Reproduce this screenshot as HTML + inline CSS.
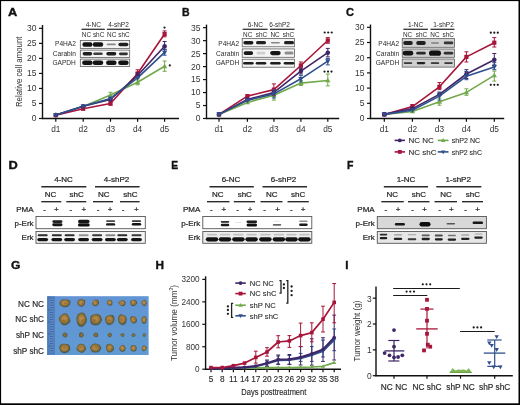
<!DOCTYPE html>
<html><head><meta charset="utf-8"><style>
html,body{margin:0;padding:0;background:#fff;}
body{width:520px;height:405px;overflow:hidden;font-family:"Liberation Sans",sans-serif;}
svg{display:block;filter:blur(0.4px);}
</style></head><body>
<svg width="520" height="405" viewBox="0 0 520 405" font-family="Liberation Sans, sans-serif">
<rect x="0" y="0" width="520" height="405" fill="#fff"/>
<defs><filter id="bl" x="-20%" y="-50%" width="140%" height="200%"><feGaussianBlur stdDeviation="0.45"/></filter><filter id="bl2" x="-20%" y="-50%" width="140%" height="200%"><feGaussianBlur stdDeviation="0.7"/></filter><radialGradient id="tum" cx="47%" cy="45%" r="52%"><stop offset="0" stop-color="#c2904c"/><stop offset="0.4" stop-color="#ad813f"/><stop offset="0.72" stop-color="#776a3c"/><stop offset="0.92" stop-color="#4e5846"/><stop offset="1" stop-color="#557090"/></radialGradient><radialGradient id="tums" cx="50%" cy="50%" r="55%"><stop offset="0" stop-color="#9a7a40"/><stop offset="0.6" stop-color="#6d6238"/><stop offset="1" stop-color="#4d5a58"/></radialGradient><linearGradient id="photo" x1="0" y1="0" x2="0.3" y2="1"><stop offset="0" stop-color="#6392d4"/><stop offset="0.5" stop-color="#6197d4"/><stop offset="1" stop-color="#5f9ad2"/></linearGradient></defs>
<text transform="translate(8.00,15.60) scale(1.22,1)" x="0" y="0" font-size="10.5" font-weight="bold" fill="#111" stroke="#111" stroke-width="0.35">A</text>
<line x1="42.50" y1="25.00" x2="42.50" y2="119.10" stroke="#111" stroke-width="1.4" />
<line x1="41.90" y1="118.50" x2="179.00" y2="118.50" stroke="#111" stroke-width="1.4" />
<line x1="39.00" y1="118.50" x2="42.50" y2="118.50" stroke="#111" stroke-width="1.2" />
<text x="36.50" y="121.40" font-size="8.5" text-anchor="end" font-weight="normal" fill="#333333" >0</text>
<line x1="39.00" y1="103.47" x2="42.50" y2="103.47" stroke="#111" stroke-width="1.2" />
<text x="36.50" y="106.38" font-size="8.5" text-anchor="end" font-weight="normal" fill="#333333" >5</text>
<line x1="39.00" y1="88.45" x2="42.50" y2="88.45" stroke="#111" stroke-width="1.2" />
<text x="36.50" y="91.35" font-size="8.5" text-anchor="end" font-weight="normal" fill="#333333" >10</text>
<line x1="39.00" y1="73.43" x2="42.50" y2="73.43" stroke="#111" stroke-width="1.2" />
<text x="36.50" y="76.33" font-size="8.5" text-anchor="end" font-weight="normal" fill="#333333" >15</text>
<line x1="39.00" y1="58.40" x2="42.50" y2="58.40" stroke="#111" stroke-width="1.2" />
<text x="36.50" y="61.30" font-size="8.5" text-anchor="end" font-weight="normal" fill="#333333" >20</text>
<line x1="39.00" y1="43.38" x2="42.50" y2="43.38" stroke="#111" stroke-width="1.2" />
<text x="36.50" y="46.27" font-size="8.5" text-anchor="end" font-weight="normal" fill="#333333" >25</text>
<line x1="39.00" y1="28.35" x2="42.50" y2="28.35" stroke="#111" stroke-width="1.2" />
<text x="36.50" y="31.25" font-size="8.5" text-anchor="end" font-weight="normal" fill="#333333" >30</text>
<line x1="55.80" y1="118.50" x2="55.80" y2="121.70" stroke="#111" stroke-width="1.2" />
<text x="55.80" y="131.80" font-size="8.3" text-anchor="middle" font-weight="normal" fill="#333333" >d1</text>
<line x1="83.20" y1="118.50" x2="83.20" y2="121.70" stroke="#111" stroke-width="1.2" />
<text x="83.20" y="131.80" font-size="8.3" text-anchor="middle" font-weight="normal" fill="#333333" >d2</text>
<line x1="110.50" y1="118.50" x2="110.50" y2="121.70" stroke="#111" stroke-width="1.2" />
<text x="110.50" y="131.80" font-size="8.3" text-anchor="middle" font-weight="normal" fill="#333333" >d3</text>
<line x1="137.60" y1="118.50" x2="137.60" y2="121.70" stroke="#111" stroke-width="1.2" />
<text x="137.60" y="131.80" font-size="8.3" text-anchor="middle" font-weight="normal" fill="#333333" >d4</text>
<line x1="164.60" y1="118.50" x2="164.60" y2="121.70" stroke="#111" stroke-width="1.2" />
<text x="164.60" y="131.80" font-size="8.3" text-anchor="middle" font-weight="normal" fill="#333333" >d5</text>
<polyline points="55.80,115.00 83.20,106.60 110.50,94.90 137.60,82.30 164.60,66.30" fill="none" stroke="#72a94c" stroke-width="1.6" stroke-linejoin="round" stroke-linecap="round"/>
<polyline points="55.80,115.20 83.20,108.80 110.50,103.50 137.60,73.50 164.60,34.00" fill="none" stroke="#a8153a" stroke-width="1.6" stroke-linejoin="round" stroke-linecap="round"/>
<polyline points="55.80,115.00 83.20,106.30 110.50,99.40 137.60,75.50 164.60,46.30" fill="none" stroke="#3f2667" stroke-width="1.6" stroke-linejoin="round" stroke-linecap="round"/>
<polyline points="55.80,115.00 83.20,106.30 110.50,98.40 137.60,77.90 164.60,52.40" fill="none" stroke="#2f4f8e" stroke-width="1.6" stroke-linejoin="round" stroke-linecap="round"/>
<polygon points="55.80,112.24 58.44,116.84 53.16,116.84" fill="#72a94c"/>
<polygon points="83.20,103.84 85.84,108.44 80.56,108.44" fill="#72a94c"/>
<polygon points="110.50,92.14 113.14,96.74 107.86,96.74" fill="#72a94c"/>
<polygon points="137.60,79.54 140.25,84.14 134.95,84.14" fill="#72a94c"/>
<polygon points="164.60,63.54 167.25,68.14 161.95,68.14" fill="#72a94c"/>
<line x1="164.60" y1="61.00" x2="164.60" y2="71.30" stroke="#72a94c" stroke-width="1.0" />
<line x1="162.60" y1="61.00" x2="166.60" y2="61.00" stroke="#72a94c" stroke-width="1.0" />
<line x1="162.60" y1="71.30" x2="166.60" y2="71.30" stroke="#72a94c" stroke-width="1.0" />
<line x1="110.50" y1="92.30" x2="110.50" y2="97.40" stroke="#72a94c" stroke-width="1.0" />
<line x1="108.50" y1="92.30" x2="112.50" y2="92.30" stroke="#72a94c" stroke-width="1.0" />
<line x1="108.50" y1="97.40" x2="112.50" y2="97.40" stroke="#72a94c" stroke-width="1.0" />
<line x1="137.60" y1="80.00" x2="137.60" y2="84.80" stroke="#72a94c" stroke-width="1.0" />
<line x1="135.60" y1="80.00" x2="139.60" y2="80.00" stroke="#72a94c" stroke-width="1.0" />
<line x1="135.60" y1="84.80" x2="139.60" y2="84.80" stroke="#72a94c" stroke-width="1.0" />
<rect x="53.70" y="113.10" width="4.20" height="4.20" fill="#a8153a"/>
<rect x="81.10" y="106.70" width="4.20" height="4.20" fill="#a8153a"/>
<rect x="108.40" y="101.40" width="4.20" height="4.20" fill="#a8153a"/>
<rect x="135.50" y="71.40" width="4.20" height="4.20" fill="#a8153a"/>
<rect x="162.50" y="31.90" width="4.20" height="4.20" fill="#a8153a"/>
<line x1="137.60" y1="69.80" x2="137.60" y2="76.80" stroke="#a8153a" stroke-width="1.0" />
<line x1="135.60" y1="69.80" x2="139.60" y2="69.80" stroke="#a8153a" stroke-width="1.0" />
<line x1="135.60" y1="76.80" x2="139.60" y2="76.80" stroke="#a8153a" stroke-width="1.0" />
<line x1="164.60" y1="30.90" x2="164.60" y2="36.80" stroke="#a8153a" stroke-width="1.0" />
<line x1="162.60" y1="30.90" x2="166.60" y2="30.90" stroke="#a8153a" stroke-width="1.0" />
<line x1="162.60" y1="36.80" x2="166.60" y2="36.80" stroke="#a8153a" stroke-width="1.0" />
<line x1="110.50" y1="101.60" x2="110.50" y2="105.20" stroke="#a8153a" stroke-width="1.0" />
<line x1="108.50" y1="101.60" x2="112.50" y2="101.60" stroke="#a8153a" stroke-width="1.0" />
<line x1="108.50" y1="105.20" x2="112.50" y2="105.20" stroke="#a8153a" stroke-width="1.0" />
<circle cx="55.80" cy="115.00" r="2.30" fill="#3f2667"/>
<circle cx="83.20" cy="106.30" r="2.30" fill="#3f2667"/>
<circle cx="110.50" cy="99.40" r="2.30" fill="#3f2667"/>
<circle cx="137.60" cy="75.50" r="2.30" fill="#3f2667"/>
<circle cx="164.60" cy="46.30" r="2.30" fill="#3f2667"/>
<line x1="164.60" y1="41.50" x2="164.60" y2="49.20" stroke="#3f2667" stroke-width="1.0" />
<line x1="162.60" y1="41.50" x2="166.60" y2="41.50" stroke="#3f2667" stroke-width="1.0" />
<line x1="162.60" y1="49.20" x2="166.60" y2="49.20" stroke="#3f2667" stroke-width="1.0" />
<line x1="137.60" y1="72.80" x2="137.60" y2="78.00" stroke="#3f2667" stroke-width="1.0" />
<line x1="135.60" y1="72.80" x2="139.60" y2="72.80" stroke="#3f2667" stroke-width="1.0" />
<line x1="135.60" y1="78.00" x2="139.60" y2="78.00" stroke="#3f2667" stroke-width="1.0" />
<polygon points="55.80,117.76 58.44,113.16 53.16,113.16" fill="#2f4f8e"/>
<polygon points="83.20,109.06 85.84,104.46 80.56,104.46" fill="#2f4f8e"/>
<polygon points="110.50,101.16 113.14,96.56 107.86,96.56" fill="#2f4f8e"/>
<polygon points="137.60,80.66 140.25,76.06 134.95,76.06" fill="#2f4f8e"/>
<polygon points="164.60,55.16 167.25,50.56 161.95,50.56" fill="#2f4f8e"/>
<line x1="164.60" y1="49.50" x2="164.60" y2="55.20" stroke="#2f4f8e" stroke-width="1.0" />
<line x1="162.60" y1="49.50" x2="166.60" y2="49.50" stroke="#2f4f8e" stroke-width="1.0" />
<line x1="162.60" y1="55.20" x2="166.60" y2="55.20" stroke="#2f4f8e" stroke-width="1.0" />
<circle cx="164.50" cy="27.60" r="1.1" fill="#1a1a1a"/>
<circle cx="169.80" cy="65.40" r="1.1" fill="#1a1a1a"/>
<text transform="translate(22.40,71.80) rotate(-90) scale(0.8,1)" x="0" y="0" font-size="9.8" text-anchor="middle" fill="#333333" >Relative cell amount</text>
<text transform="translate(182.00,15.60) scale(1.0,1)" x="0" y="0" font-size="10.5" font-weight="bold" fill="#111" stroke="#111" stroke-width="0.35">B</text>
<line x1="206.50" y1="24.60" x2="206.50" y2="119.10" stroke="#111" stroke-width="1.4" />
<line x1="205.90" y1="118.50" x2="339.20" y2="118.50" stroke="#111" stroke-width="1.4" />
<line x1="203.00" y1="118.50" x2="206.50" y2="118.50" stroke="#111" stroke-width="1.2" />
<text x="200.50" y="121.40" font-size="8.5" text-anchor="end" font-weight="normal" fill="#333333" >0</text>
<line x1="203.00" y1="105.53" x2="206.50" y2="105.53" stroke="#111" stroke-width="1.2" />
<text x="200.50" y="108.43" font-size="8.5" text-anchor="end" font-weight="normal" fill="#333333" >5</text>
<line x1="203.00" y1="92.55" x2="206.50" y2="92.55" stroke="#111" stroke-width="1.2" />
<text x="200.50" y="95.45" font-size="8.5" text-anchor="end" font-weight="normal" fill="#333333" >10</text>
<line x1="203.00" y1="79.57" x2="206.50" y2="79.57" stroke="#111" stroke-width="1.2" />
<text x="200.50" y="82.47" font-size="8.5" text-anchor="end" font-weight="normal" fill="#333333" >15</text>
<line x1="203.00" y1="66.60" x2="206.50" y2="66.60" stroke="#111" stroke-width="1.2" />
<text x="200.50" y="69.50" font-size="8.5" text-anchor="end" font-weight="normal" fill="#333333" >20</text>
<line x1="203.00" y1="53.62" x2="206.50" y2="53.62" stroke="#111" stroke-width="1.2" />
<text x="200.50" y="56.52" font-size="8.5" text-anchor="end" font-weight="normal" fill="#333333" >25</text>
<line x1="203.00" y1="40.65" x2="206.50" y2="40.65" stroke="#111" stroke-width="1.2" />
<text x="200.50" y="43.55" font-size="8.5" text-anchor="end" font-weight="normal" fill="#333333" >30</text>
<line x1="203.00" y1="27.67" x2="206.50" y2="27.67" stroke="#111" stroke-width="1.2" />
<text x="200.50" y="30.57" font-size="8.5" text-anchor="end" font-weight="normal" fill="#333333" >35</text>
<line x1="219.00" y1="118.50" x2="219.00" y2="121.70" stroke="#111" stroke-width="1.2" />
<text x="219.00" y="131.80" font-size="8.3" text-anchor="middle" font-weight="normal" fill="#333333" >d1</text>
<line x1="247.40" y1="118.50" x2="247.40" y2="121.70" stroke="#111" stroke-width="1.2" />
<text x="247.40" y="131.80" font-size="8.3" text-anchor="middle" font-weight="normal" fill="#333333" >d2</text>
<line x1="273.90" y1="118.50" x2="273.90" y2="121.70" stroke="#111" stroke-width="1.2" />
<text x="273.90" y="131.80" font-size="8.3" text-anchor="middle" font-weight="normal" fill="#333333" >d3</text>
<line x1="300.90" y1="118.50" x2="300.90" y2="121.70" stroke="#111" stroke-width="1.2" />
<text x="300.90" y="131.80" font-size="8.3" text-anchor="middle" font-weight="normal" fill="#333333" >d4</text>
<line x1="327.80" y1="118.50" x2="327.80" y2="121.70" stroke="#111" stroke-width="1.2" />
<text x="327.80" y="131.80" font-size="8.3" text-anchor="middle" font-weight="normal" fill="#333333" >d5</text>
<polyline points="219.00,114.40 247.40,102.40 273.90,95.30 300.90,83.10 327.80,80.50" fill="none" stroke="#72a94c" stroke-width="1.6" stroke-linejoin="round" stroke-linecap="round"/>
<polyline points="219.00,114.40 247.40,96.10 273.90,89.60 300.90,65.50 327.80,40.50" fill="none" stroke="#a8153a" stroke-width="1.6" stroke-linejoin="round" stroke-linecap="round"/>
<polyline points="219.00,114.40 247.40,99.50 273.90,92.40 300.90,71.10 327.80,52.70" fill="none" stroke="#3f2667" stroke-width="1.6" stroke-linejoin="round" stroke-linecap="round"/>
<polyline points="219.00,114.40 247.40,100.40 273.90,93.90 300.90,78.80 327.80,61.20" fill="none" stroke="#2f4f8e" stroke-width="1.6" stroke-linejoin="round" stroke-linecap="round"/>
<polygon points="219.00,111.64 221.65,116.24 216.35,116.24" fill="#72a94c"/>
<polygon points="247.40,99.64 250.05,104.24 244.75,104.24" fill="#72a94c"/>
<polygon points="273.90,92.54 276.54,97.14 271.25,97.14" fill="#72a94c"/>
<polygon points="300.90,80.34 303.54,84.94 298.25,84.94" fill="#72a94c"/>
<polygon points="327.80,77.74 330.44,82.34 325.16,82.34" fill="#72a94c"/>
<line x1="327.80" y1="74.00" x2="327.80" y2="85.90" stroke="#72a94c" stroke-width="1.0" />
<line x1="325.80" y1="74.00" x2="329.80" y2="74.00" stroke="#72a94c" stroke-width="1.0" />
<line x1="325.80" y1="85.90" x2="329.80" y2="85.90" stroke="#72a94c" stroke-width="1.0" />
<line x1="273.90" y1="91.00" x2="273.90" y2="100.10" stroke="#72a94c" stroke-width="1.0" />
<line x1="271.90" y1="91.00" x2="275.90" y2="91.00" stroke="#72a94c" stroke-width="1.0" />
<line x1="271.90" y1="100.10" x2="275.90" y2="100.10" stroke="#72a94c" stroke-width="1.0" />
<line x1="300.90" y1="80.50" x2="300.90" y2="85.50" stroke="#72a94c" stroke-width="1.0" />
<line x1="298.90" y1="80.50" x2="302.90" y2="80.50" stroke="#72a94c" stroke-width="1.0" />
<line x1="298.90" y1="85.50" x2="302.90" y2="85.50" stroke="#72a94c" stroke-width="1.0" />
<rect x="216.90" y="112.30" width="4.20" height="4.20" fill="#a8153a"/>
<rect x="245.30" y="94.00" width="4.20" height="4.20" fill="#a8153a"/>
<rect x="271.80" y="87.50" width="4.20" height="4.20" fill="#a8153a"/>
<rect x="298.80" y="63.40" width="4.20" height="4.20" fill="#a8153a"/>
<rect x="325.70" y="38.40" width="4.20" height="4.20" fill="#a8153a"/>
<line x1="327.80" y1="37.60" x2="327.80" y2="43.30" stroke="#a8153a" stroke-width="1.0" />
<line x1="325.80" y1="37.60" x2="329.80" y2="37.60" stroke="#a8153a" stroke-width="1.0" />
<line x1="325.80" y1="43.30" x2="329.80" y2="43.30" stroke="#a8153a" stroke-width="1.0" />
<line x1="300.90" y1="62.00" x2="300.90" y2="68.80" stroke="#a8153a" stroke-width="1.0" />
<line x1="298.90" y1="62.00" x2="302.90" y2="62.00" stroke="#a8153a" stroke-width="1.0" />
<line x1="298.90" y1="68.80" x2="302.90" y2="68.80" stroke="#a8153a" stroke-width="1.0" />
<line x1="273.90" y1="83.90" x2="273.90" y2="95.30" stroke="#a8153a" stroke-width="1.0" />
<line x1="271.90" y1="83.90" x2="275.90" y2="83.90" stroke="#a8153a" stroke-width="1.0" />
<line x1="271.90" y1="95.30" x2="275.90" y2="95.30" stroke="#a8153a" stroke-width="1.0" />
<circle cx="219.00" cy="114.40" r="2.30" fill="#3f2667"/>
<circle cx="247.40" cy="99.50" r="2.30" fill="#3f2667"/>
<circle cx="273.90" cy="92.40" r="2.30" fill="#3f2667"/>
<circle cx="300.90" cy="71.10" r="2.30" fill="#3f2667"/>
<circle cx="327.80" cy="52.70" r="2.30" fill="#3f2667"/>
<line x1="327.80" y1="48.40" x2="327.80" y2="56.90" stroke="#3f2667" stroke-width="1.0" />
<line x1="325.80" y1="48.40" x2="329.80" y2="48.40" stroke="#3f2667" stroke-width="1.0" />
<line x1="325.80" y1="56.90" x2="329.80" y2="56.90" stroke="#3f2667" stroke-width="1.0" />
<line x1="300.90" y1="68.00" x2="300.90" y2="74.00" stroke="#3f2667" stroke-width="1.0" />
<line x1="298.90" y1="68.00" x2="302.90" y2="68.00" stroke="#3f2667" stroke-width="1.0" />
<line x1="298.90" y1="74.00" x2="302.90" y2="74.00" stroke="#3f2667" stroke-width="1.0" />
<polygon points="219.00,117.16 221.65,112.56 216.35,112.56" fill="#2f4f8e"/>
<polygon points="247.40,103.16 250.05,98.56 244.75,98.56" fill="#2f4f8e"/>
<polygon points="273.90,96.66 276.54,92.06 271.25,92.06" fill="#2f4f8e"/>
<polygon points="300.90,81.56 303.54,76.96 298.25,76.96" fill="#2f4f8e"/>
<polygon points="327.80,63.96 330.44,59.36 325.16,59.36" fill="#2f4f8e"/>
<line x1="327.80" y1="58.40" x2="327.80" y2="64.90" stroke="#2f4f8e" stroke-width="1.0" />
<line x1="325.80" y1="58.40" x2="329.80" y2="58.40" stroke="#2f4f8e" stroke-width="1.0" />
<line x1="325.80" y1="64.90" x2="329.80" y2="64.90" stroke="#2f4f8e" stroke-width="1.0" />
<line x1="300.90" y1="75.40" x2="300.90" y2="81.90" stroke="#2f4f8e" stroke-width="1.0" />
<line x1="298.90" y1="75.40" x2="302.90" y2="75.40" stroke="#2f4f8e" stroke-width="1.0" />
<line x1="298.90" y1="81.90" x2="302.90" y2="81.90" stroke="#2f4f8e" stroke-width="1.0" />
<line x1="273.90" y1="90.00" x2="273.90" y2="98.00" stroke="#2f4f8e" stroke-width="1.0" />
<line x1="271.90" y1="90.00" x2="275.90" y2="90.00" stroke="#2f4f8e" stroke-width="1.0" />
<line x1="271.90" y1="98.00" x2="275.90" y2="98.00" stroke="#2f4f8e" stroke-width="1.0" />
<circle cx="324.70" cy="32.50" r="1.1" fill="#1a1a1a"/>
<circle cx="328.20" cy="32.50" r="1.1" fill="#1a1a1a"/>
<circle cx="331.70" cy="32.50" r="1.1" fill="#1a1a1a"/>
<circle cx="324.50" cy="71.60" r="1.1" fill="#1a1a1a"/>
<circle cx="328.00" cy="71.60" r="1.1" fill="#1a1a1a"/>
<circle cx="331.50" cy="71.60" r="1.1" fill="#1a1a1a"/>
<text transform="translate(346.00,15.60) scale(1.05,1)" x="0" y="0" font-size="10.5" font-weight="bold" fill="#111" stroke="#111" stroke-width="0.35">C</text>
<line x1="370.50" y1="24.50" x2="370.50" y2="119.10" stroke="#111" stroke-width="1.4" />
<line x1="369.90" y1="118.50" x2="504.20" y2="118.50" stroke="#111" stroke-width="1.4" />
<line x1="367.00" y1="118.50" x2="370.50" y2="118.50" stroke="#111" stroke-width="1.2" />
<text x="364.50" y="121.40" font-size="8.5" text-anchor="end" font-weight="normal" fill="#333333" >0</text>
<line x1="367.00" y1="103.30" x2="370.50" y2="103.30" stroke="#111" stroke-width="1.2" />
<text x="364.50" y="106.20" font-size="8.5" text-anchor="end" font-weight="normal" fill="#333333" >5</text>
<line x1="367.00" y1="88.10" x2="370.50" y2="88.10" stroke="#111" stroke-width="1.2" />
<text x="364.50" y="91.00" font-size="8.5" text-anchor="end" font-weight="normal" fill="#333333" >10</text>
<line x1="367.00" y1="72.90" x2="370.50" y2="72.90" stroke="#111" stroke-width="1.2" />
<text x="364.50" y="75.80" font-size="8.5" text-anchor="end" font-weight="normal" fill="#333333" >15</text>
<line x1="367.00" y1="57.70" x2="370.50" y2="57.70" stroke="#111" stroke-width="1.2" />
<text x="364.50" y="60.60" font-size="8.5" text-anchor="end" font-weight="normal" fill="#333333" >20</text>
<line x1="367.00" y1="42.50" x2="370.50" y2="42.50" stroke="#111" stroke-width="1.2" />
<text x="364.50" y="45.40" font-size="8.5" text-anchor="end" font-weight="normal" fill="#333333" >25</text>
<line x1="367.00" y1="27.30" x2="370.50" y2="27.30" stroke="#111" stroke-width="1.2" />
<text x="364.50" y="30.20" font-size="8.5" text-anchor="end" font-weight="normal" fill="#333333" >30</text>
<line x1="384.30" y1="118.50" x2="384.30" y2="121.70" stroke="#111" stroke-width="1.2" />
<text x="384.30" y="131.80" font-size="8.3" text-anchor="middle" font-weight="normal" fill="#333333" >d1</text>
<line x1="412.40" y1="118.50" x2="412.40" y2="121.70" stroke="#111" stroke-width="1.2" />
<text x="412.40" y="131.80" font-size="8.3" text-anchor="middle" font-weight="normal" fill="#333333" >d2</text>
<line x1="439.40" y1="118.50" x2="439.40" y2="121.70" stroke="#111" stroke-width="1.2" />
<text x="439.40" y="131.80" font-size="8.3" text-anchor="middle" font-weight="normal" fill="#333333" >d3</text>
<line x1="466.40" y1="118.50" x2="466.40" y2="121.70" stroke="#111" stroke-width="1.2" />
<text x="466.40" y="131.80" font-size="8.3" text-anchor="middle" font-weight="normal" fill="#333333" >d4</text>
<line x1="494.30" y1="118.50" x2="494.30" y2="121.70" stroke="#111" stroke-width="1.2" />
<text x="494.30" y="131.80" font-size="8.3" text-anchor="middle" font-weight="normal" fill="#333333" >d5</text>
<polyline points="384.30,114.40 412.40,111.50 439.40,101.80 466.40,92.40 494.30,75.40" fill="none" stroke="#72a94c" stroke-width="1.6" stroke-linejoin="round" stroke-linecap="round"/>
<polyline points="384.30,114.40 412.40,106.60 439.40,86.80 466.40,56.90 494.30,42.70" fill="none" stroke="#a8153a" stroke-width="1.6" stroke-linejoin="round" stroke-linecap="round"/>
<polyline points="384.30,114.40 412.40,108.60 439.40,94.40 466.40,74.00 494.30,59.80" fill="none" stroke="#3f2667" stroke-width="1.6" stroke-linejoin="round" stroke-linecap="round"/>
<polyline points="384.30,114.40 412.40,110.30 439.40,96.10 466.40,76.30 494.30,66.90" fill="none" stroke="#2f4f8e" stroke-width="1.6" stroke-linejoin="round" stroke-linecap="round"/>
<polygon points="384.30,111.64 386.94,116.24 381.66,116.24" fill="#72a94c"/>
<polygon points="412.40,108.74 415.04,113.34 409.75,113.34" fill="#72a94c"/>
<polygon points="439.40,99.04 442.04,103.64 436.75,103.64" fill="#72a94c"/>
<polygon points="466.40,89.64 469.04,94.24 463.75,94.24" fill="#72a94c"/>
<polygon points="494.30,72.64 496.94,77.24 491.66,77.24" fill="#72a94c"/>
<line x1="494.30" y1="71.10" x2="494.30" y2="81.10" stroke="#72a94c" stroke-width="1.0" />
<line x1="492.30" y1="71.10" x2="496.30" y2="71.10" stroke="#72a94c" stroke-width="1.0" />
<line x1="492.30" y1="81.10" x2="496.30" y2="81.10" stroke="#72a94c" stroke-width="1.0" />
<line x1="466.40" y1="88.80" x2="466.40" y2="95.30" stroke="#72a94c" stroke-width="1.0" />
<line x1="464.40" y1="88.80" x2="468.40" y2="88.80" stroke="#72a94c" stroke-width="1.0" />
<line x1="464.40" y1="95.30" x2="468.40" y2="95.30" stroke="#72a94c" stroke-width="1.0" />
<line x1="439.40" y1="98.10" x2="439.40" y2="105.20" stroke="#72a94c" stroke-width="1.0" />
<line x1="437.40" y1="98.10" x2="441.40" y2="98.10" stroke="#72a94c" stroke-width="1.0" />
<line x1="437.40" y1="105.20" x2="441.40" y2="105.20" stroke="#72a94c" stroke-width="1.0" />
<rect x="382.20" y="112.30" width="4.20" height="4.20" fill="#a8153a"/>
<rect x="410.30" y="104.50" width="4.20" height="4.20" fill="#a8153a"/>
<rect x="437.30" y="84.70" width="4.20" height="4.20" fill="#a8153a"/>
<rect x="464.30" y="54.80" width="4.20" height="4.20" fill="#a8153a"/>
<rect x="492.20" y="40.60" width="4.20" height="4.20" fill="#a8153a"/>
<line x1="494.30" y1="37.60" x2="494.30" y2="47.00" stroke="#a8153a" stroke-width="1.0" />
<line x1="492.30" y1="37.60" x2="496.30" y2="37.60" stroke="#a8153a" stroke-width="1.0" />
<line x1="492.30" y1="47.00" x2="496.30" y2="47.00" stroke="#a8153a" stroke-width="1.0" />
<line x1="466.40" y1="51.80" x2="466.40" y2="62.00" stroke="#a8153a" stroke-width="1.0" />
<line x1="464.40" y1="51.80" x2="468.40" y2="51.80" stroke="#a8153a" stroke-width="1.0" />
<line x1="464.40" y1="62.00" x2="468.40" y2="62.00" stroke="#a8153a" stroke-width="1.0" />
<line x1="439.40" y1="82.50" x2="439.40" y2="89.60" stroke="#a8153a" stroke-width="1.0" />
<line x1="437.40" y1="82.50" x2="441.40" y2="82.50" stroke="#a8153a" stroke-width="1.0" />
<line x1="437.40" y1="89.60" x2="441.40" y2="89.60" stroke="#a8153a" stroke-width="1.0" />
<line x1="412.40" y1="104.50" x2="412.40" y2="108.50" stroke="#a8153a" stroke-width="1.0" />
<line x1="410.40" y1="104.50" x2="414.40" y2="104.50" stroke="#a8153a" stroke-width="1.0" />
<line x1="410.40" y1="108.50" x2="414.40" y2="108.50" stroke="#a8153a" stroke-width="1.0" />
<circle cx="384.30" cy="114.40" r="2.30" fill="#3f2667"/>
<circle cx="412.40" cy="108.60" r="2.30" fill="#3f2667"/>
<circle cx="439.40" cy="94.40" r="2.30" fill="#3f2667"/>
<circle cx="466.40" cy="74.00" r="2.30" fill="#3f2667"/>
<circle cx="494.30" cy="59.80" r="2.30" fill="#3f2667"/>
<line x1="494.30" y1="53.50" x2="494.30" y2="64.90" stroke="#3f2667" stroke-width="1.0" />
<line x1="492.30" y1="53.50" x2="496.30" y2="53.50" stroke="#3f2667" stroke-width="1.0" />
<line x1="492.30" y1="64.90" x2="496.30" y2="64.90" stroke="#3f2667" stroke-width="1.0" />
<line x1="466.40" y1="69.70" x2="466.40" y2="78.50" stroke="#3f2667" stroke-width="1.0" />
<line x1="464.40" y1="69.70" x2="468.40" y2="69.70" stroke="#3f2667" stroke-width="1.0" />
<line x1="464.40" y1="78.50" x2="468.40" y2="78.50" stroke="#3f2667" stroke-width="1.0" />
<polygon points="384.30,117.16 386.94,112.56 381.66,112.56" fill="#2f4f8e"/>
<polygon points="412.40,113.06 415.04,108.46 409.75,108.46" fill="#2f4f8e"/>
<polygon points="439.40,98.86 442.04,94.26 436.75,94.26" fill="#2f4f8e"/>
<polygon points="466.40,79.06 469.04,74.46 463.75,74.46" fill="#2f4f8e"/>
<polygon points="494.30,69.66 496.94,65.06 491.66,65.06" fill="#2f4f8e"/>
<line x1="494.30" y1="62.60" x2="494.30" y2="69.70" stroke="#2f4f8e" stroke-width="1.0" />
<line x1="492.30" y1="62.60" x2="496.30" y2="62.60" stroke="#2f4f8e" stroke-width="1.0" />
<line x1="492.30" y1="69.70" x2="496.30" y2="69.70" stroke="#2f4f8e" stroke-width="1.0" />
<line x1="466.40" y1="71.50" x2="466.40" y2="79.70" stroke="#2f4f8e" stroke-width="1.0" />
<line x1="464.40" y1="71.50" x2="468.40" y2="71.50" stroke="#2f4f8e" stroke-width="1.0" />
<line x1="464.40" y1="79.70" x2="468.40" y2="79.70" stroke="#2f4f8e" stroke-width="1.0" />
<line x1="439.40" y1="92.00" x2="439.40" y2="100.00" stroke="#2f4f8e" stroke-width="1.0" />
<line x1="437.40" y1="92.00" x2="441.40" y2="92.00" stroke="#2f4f8e" stroke-width="1.0" />
<line x1="437.40" y1="100.00" x2="441.40" y2="100.00" stroke="#2f4f8e" stroke-width="1.0" />
<circle cx="490.80" cy="32.70" r="1.1" fill="#1a1a1a"/>
<circle cx="494.30" cy="32.70" r="1.1" fill="#1a1a1a"/>
<circle cx="497.80" cy="32.70" r="1.1" fill="#1a1a1a"/>
<circle cx="490.80" cy="84.80" r="1.1" fill="#1a1a1a"/>
<circle cx="494.30" cy="84.80" r="1.1" fill="#1a1a1a"/>
<circle cx="497.80" cy="84.80" r="1.1" fill="#1a1a1a"/>
<line x1="394.60" y1="140.40" x2="405.00" y2="140.40" stroke="#3f2667" stroke-width="1.6" />
<circle cx="399.80" cy="140.40" r="1.90" fill="#3f2667"/>
<text x="408.50" y="143.20" font-size="8.0" text-anchor="start" font-weight="normal" fill="#2a2a2a" stroke="#2a2a2a" stroke-width="0.1">NC NC</text>
<line x1="394.60" y1="151.90" x2="405.00" y2="151.90" stroke="#a8153a" stroke-width="1.6" />
<rect x="397.90" y="150.00" width="3.80" height="3.80" fill="#a8153a"/>
<text x="408.50" y="154.70" font-size="8.0" text-anchor="start" font-weight="normal" fill="#2a2a2a" stroke="#2a2a2a" stroke-width="0.1">NC shC</text>
<line x1="437.80" y1="140.40" x2="448.50" y2="140.40" stroke="#72a94c" stroke-width="1.6" />
<polygon points="443.15,138.12 445.33,141.92 440.96,141.92" fill="#72a94c"/>
<text x="451.80" y="143.20" font-size="8.0" fill="#2a2a2a" stroke="#2a2a2a" stroke-width="0.1" textLength="28.4" lengthAdjust="spacingAndGlyphs">shP2 NC</text>
<line x1="437.80" y1="151.90" x2="448.50" y2="151.90" stroke="#2f4f8e" stroke-width="1.6" />
<polygon points="443.15,154.18 445.33,150.38 440.96,150.38" fill="#2f4f8e"/>
<text x="451.80" y="154.70" font-size="8.0" fill="#2a2a2a" stroke="#2a2a2a" stroke-width="0.1" textLength="30.2" lengthAdjust="spacingAndGlyphs">shP2 shC</text>
<text x="93.30" y="26.80" font-size="6.5" text-anchor="middle" font-weight="normal" fill="#2a2a2a" >4-NC</text>
<text x="118.50" y="26.80" font-size="6.5" text-anchor="middle" font-weight="normal" fill="#2a2a2a" >4-shP2</text>
<line x1="81.50" y1="29.30" x2="104.80" y2="29.30" stroke="#333" stroke-width="1.3" />
<line x1="106.90" y1="29.30" x2="130.10" y2="29.30" stroke="#333" stroke-width="1.3" />
<text x="86.40" y="36.70" font-size="6.4" text-anchor="middle" font-weight="normal" fill="#2a2a2a" >NC</text>
<text x="98.60" y="36.70" font-size="6.4" text-anchor="middle" font-weight="normal" fill="#2a2a2a" >shC</text>
<text x="111.70" y="36.70" font-size="6.4" text-anchor="middle" font-weight="normal" fill="#2a2a2a" >NC</text>
<text x="124.00" y="36.70" font-size="6.4" text-anchor="middle" font-weight="normal" fill="#2a2a2a" >shC</text>
<rect x="80.30" y="40.50" width="49.40" height="7.90" fill="#f4f4f4" stroke="#555" stroke-width="0.75"/>
<text x="75.90" y="46.00" font-size="6.6" text-anchor="end" font-weight="normal" fill="#2a2a2a" >P4HA2</text>
<rect x="80.30" y="50.10" width="49.40" height="7.40" fill="#f4f4f4" stroke="#555" stroke-width="0.75"/>
<text x="75.90" y="55.90" font-size="6.6" text-anchor="end" font-weight="normal" fill="#2a2a2a" >Carabin</text>
<rect x="80.30" y="59.10" width="49.40" height="7.30" fill="#f4f4f4" stroke="#555" stroke-width="0.75"/>
<text x="75.90" y="65.30" font-size="6.6" text-anchor="end" font-weight="normal" fill="#2a2a2a" >GAPDH</text>
<rect x="82.40" y="42.25" width="10.00" height="4.40" rx="2.20" fill="#0a0a0a" fill-opacity="0.97" filter="url(#bl)"/>
<rect x="92.75" y="42.25" width="10.50" height="4.40" rx="2.20" fill="#0a0a0a" fill-opacity="0.97" filter="url(#bl)"/>
<rect x="106.80" y="43.55" width="9.00" height="1.80" rx="0.90" fill="#0a0a0a" fill-opacity="0.45" filter="url(#bl)"/>
<rect x="118.40" y="42.75" width="10.00" height="3.40" rx="1.70" fill="#0a0a0a" fill-opacity="0.92" filter="url(#bl)"/>
<rect x="82.65" y="52.10" width="9.50" height="3.40" rx="1.70" fill="#0a0a0a" fill-opacity="0.93" filter="url(#bl)"/>
<rect x="93.25" y="52.50" width="9.50" height="2.60" rx="1.30" fill="#0a0a0a" fill-opacity="0.8" filter="url(#bl)"/>
<rect x="106.30" y="52.00" width="10.00" height="3.60" rx="1.80" fill="#0a0a0a" fill-opacity="0.93" filter="url(#bl)"/>
<rect x="118.90" y="52.40" width="9.00" height="2.80" rx="1.40" fill="#0a0a0a" fill-opacity="0.85" filter="url(#bl)"/>
<rect x="82.15" y="60.45" width="10.50" height="4.60" rx="2.30" fill="#0a0a0a" fill-opacity="0.97" filter="url(#bl)"/>
<rect x="92.75" y="60.45" width="10.50" height="4.60" rx="2.30" fill="#0a0a0a" fill-opacity="0.97" filter="url(#bl)"/>
<rect x="106.05" y="60.45" width="10.50" height="4.60" rx="2.30" fill="#0a0a0a" fill-opacity="0.97" filter="url(#bl)"/>
<rect x="118.15" y="60.45" width="10.50" height="4.60" rx="2.30" fill="#0a0a0a" fill-opacity="0.97" filter="url(#bl)"/>
<text x="255.30" y="26.80" font-size="6.5" text-anchor="middle" font-weight="normal" fill="#2a2a2a" >6-NC</text>
<text x="279.60" y="26.80" font-size="6.5" text-anchor="middle" font-weight="normal" fill="#2a2a2a" >6-shP2</text>
<line x1="242.70" y1="29.30" x2="267.60" y2="29.30" stroke="#333" stroke-width="1.3" />
<line x1="270.00" y1="29.30" x2="294.50" y2="29.30" stroke="#333" stroke-width="1.3" />
<text x="247.70" y="36.70" font-size="6.4" text-anchor="middle" font-weight="normal" fill="#2a2a2a" >NC</text>
<text x="261.50" y="36.70" font-size="6.4" text-anchor="middle" font-weight="normal" fill="#2a2a2a" >shC</text>
<text x="275.00" y="36.70" font-size="6.4" text-anchor="middle" font-weight="normal" fill="#2a2a2a" >NC</text>
<text x="288.40" y="36.70" font-size="6.4" text-anchor="middle" font-weight="normal" fill="#2a2a2a" >shC</text>
<rect x="242.20" y="38.60" width="52.30" height="8.20" fill="#f4f4f4" stroke="#555" stroke-width="0.75"/>
<text x="239.20" y="45.50" font-size="6.6" text-anchor="end" font-weight="normal" fill="#2a2a2a" >P4HA2</text>
<rect x="242.20" y="48.90" width="52.30" height="8.40" fill="#f4f4f4" stroke="#555" stroke-width="0.75"/>
<text x="239.20" y="55.60" font-size="6.6" text-anchor="end" font-weight="normal" fill="#2a2a2a" >Carabin</text>
<rect x="242.20" y="59.20" width="52.30" height="8.00" fill="#f4f4f4" stroke="#555" stroke-width="0.75"/>
<text x="239.20" y="65.20" font-size="6.6" text-anchor="end" font-weight="normal" fill="#2a2a2a" >GAPDH</text>
<rect x="243.40" y="41.00" width="10.00" height="3.40" rx="1.70" fill="#0a0a0a" fill-opacity="0.95" filter="url(#bl)"/>
<rect x="256.00" y="41.10" width="10.00" height="3.20" rx="1.60" fill="#0a0a0a" fill-opacity="0.92" filter="url(#bl)"/>
<rect x="270.90" y="41.90" width="9.00" height="1.60" rx="0.80" fill="#0a0a0a" fill-opacity="0.45" filter="url(#bl)"/>
<rect x="284.00" y="41.10" width="10.00" height="3.20" rx="1.60" fill="#0a0a0a" fill-opacity="0.92" filter="url(#bl)"/>
<rect x="243.65" y="51.20" width="9.50" height="3.80" rx="1.90" fill="#0a0a0a" fill-opacity="0.95" filter="url(#bl)"/>
<rect x="256.50" y="51.80" width="9.00" height="2.60" rx="1.30" fill="#0a0a0a" fill-opacity="0.15" filter="url(#bl)"/>
<rect x="270.15" y="51.00" width="10.50" height="4.20" rx="2.10" fill="#0a0a0a" fill-opacity="0.96" filter="url(#bl)"/>
<rect x="284.50" y="51.60" width="9.00" height="3.00" rx="1.50" fill="#0a0a0a" fill-opacity="0.42" filter="url(#bl)"/>
<rect x="243.15" y="61.95" width="10.50" height="2.50" rx="1.25" fill="#0a0a0a" fill-opacity="0.93" filter="url(#bl)"/>
<rect x="255.75" y="61.95" width="10.50" height="2.50" rx="1.25" fill="#0a0a0a" fill-opacity="0.93" filter="url(#bl)"/>
<rect x="270.15" y="61.95" width="10.50" height="2.50" rx="1.25" fill="#0a0a0a" fill-opacity="0.93" filter="url(#bl)"/>
<rect x="283.75" y="61.95" width="10.50" height="2.50" rx="1.25" fill="#0a0a0a" fill-opacity="0.93" filter="url(#bl)"/>
<text x="415.50" y="26.80" font-size="6.5" text-anchor="middle" font-weight="normal" fill="#2a2a2a" >1-NC</text>
<text x="443.50" y="26.80" font-size="6.5" text-anchor="middle" font-weight="normal" fill="#2a2a2a" >1-shP2</text>
<line x1="403.40" y1="29.30" x2="427.90" y2="29.30" stroke="#333" stroke-width="1.3" />
<line x1="430.50" y1="29.30" x2="454.50" y2="29.30" stroke="#333" stroke-width="1.3" />
<text x="407.50" y="36.70" font-size="6.4" text-anchor="middle" font-weight="normal" fill="#2a2a2a" >NC</text>
<text x="421.40" y="36.70" font-size="6.4" text-anchor="middle" font-weight="normal" fill="#2a2a2a" >shC</text>
<text x="434.90" y="36.70" font-size="6.4" text-anchor="middle" font-weight="normal" fill="#2a2a2a" >NC</text>
<text x="448.20" y="36.70" font-size="6.4" text-anchor="middle" font-weight="normal" fill="#2a2a2a" >shC</text>
<rect x="402.20" y="38.60" width="52.30" height="8.70" fill="#d0d0d0" stroke="#555" stroke-width="0.75"/>
<text x="399.20" y="45.50" font-size="6.6" text-anchor="end" font-weight="normal" fill="#2a2a2a" >P4HA2</text>
<rect x="402.20" y="49.00" width="52.30" height="8.30" fill="#d0d0d0" stroke="#555" stroke-width="0.75"/>
<text x="399.20" y="55.60" font-size="6.6" text-anchor="end" font-weight="normal" fill="#2a2a2a" >Carabin</text>
<rect x="402.20" y="59.00" width="52.30" height="8.10" fill="#d0d0d0" stroke="#555" stroke-width="0.75"/>
<text x="399.20" y="65.20" font-size="6.6" text-anchor="end" font-weight="normal" fill="#2a2a2a" >GAPDH</text>
<rect x="403.25" y="40.95" width="9.50" height="4.00" rx="2.00" fill="#0a0a0a" fill-opacity="0.9" filter="url(#bl)"/>
<rect x="416.25" y="40.95" width="9.50" height="4.00" rx="2.00" fill="#0a0a0a" fill-opacity="0.9" filter="url(#bl)"/>
<rect x="431.00" y="42.25" width="8.00" height="1.40" rx="0.70" fill="#0a0a0a" fill-opacity="0.4" filter="url(#bl)"/>
<rect x="443.75" y="41.55" width="9.50" height="2.80" rx="1.40" fill="#0a0a0a" fill-opacity="0.8" filter="url(#bl)"/>
<rect x="402.75" y="50.85" width="10.50" height="4.60" rx="2.30" fill="#0a0a0a" fill-opacity="0.96" filter="url(#bl)"/>
<rect x="416.25" y="51.75" width="9.50" height="2.80" rx="1.40" fill="#0a0a0a" fill-opacity="0.85" filter="url(#bl)"/>
<rect x="429.00" y="50.55" width="12.00" height="5.20" rx="2.60" fill="#0a0a0a" fill-opacity="0.98" filter="url(#bl)"/>
<rect x="443.75" y="51.75" width="9.50" height="2.80" rx="1.40" fill="#0a0a0a" fill-opacity="0.82" filter="url(#bl)"/>
<rect x="403.75" y="62.15" width="8.50" height="1.80" rx="0.90" fill="#0a0a0a" fill-opacity="0.78" filter="url(#bl)"/>
<rect x="416.75" y="61.95" width="8.50" height="2.20" rx="1.10" fill="#0a0a0a" fill-opacity="0.9" filter="url(#bl)"/>
<rect x="430.75" y="62.15" width="8.50" height="1.80" rx="0.90" fill="#0a0a0a" fill-opacity="0.78" filter="url(#bl)"/>
<rect x="444.25" y="62.15" width="8.50" height="1.80" rx="0.90" fill="#0a0a0a" fill-opacity="0.78" filter="url(#bl)"/>
<text transform="translate(8.50,168.80) scale(1.22,1)" x="0" y="0" font-size="10.5" font-weight="bold" fill="#111" stroke="#111" stroke-width="0.35">D</text>
<text x="63.50" y="181.70" font-size="8" text-anchor="middle" font-weight="normal" fill="#2a2a2a" stroke="#222" stroke-width="0.22">4-NC</text>
<text x="116.50" y="181.70" font-size="8" text-anchor="middle" font-weight="normal" fill="#2a2a2a" stroke="#222" stroke-width="0.22">4-shP2</text>
<line x1="41.30" y1="186.70" x2="86.30" y2="186.70" stroke="#2a2a2a" stroke-width="1.35" />
<line x1="95.00" y1="186.70" x2="139.60" y2="186.70" stroke="#2a2a2a" stroke-width="1.35" />
<text x="50.60" y="197.40" font-size="8" text-anchor="middle" font-weight="normal" fill="#2a2a2a" stroke="#222" stroke-width="0.22">NC</text>
<text x="76.60" y="197.40" font-size="8" text-anchor="middle" font-weight="normal" fill="#2a2a2a" stroke="#222" stroke-width="0.22">shC</text>
<text x="103.80" y="197.40" font-size="8" text-anchor="middle" font-weight="normal" fill="#2a2a2a" stroke="#222" stroke-width="0.22">NC</text>
<text x="130.40" y="197.40" font-size="8" text-anchor="middle" font-weight="normal" fill="#2a2a2a" stroke="#222" stroke-width="0.22">shC</text>
<line x1="41.30" y1="201.70" x2="61.30" y2="201.70" stroke="#2a2a2a" stroke-width="1.35" />
<line x1="66.30" y1="201.70" x2="86.30" y2="201.70" stroke="#2a2a2a" stroke-width="1.35" />
<line x1="93.00" y1="201.70" x2="113.00" y2="201.70" stroke="#2a2a2a" stroke-width="1.35" />
<line x1="120.00" y1="201.70" x2="139.60" y2="201.70" stroke="#2a2a2a" stroke-width="1.35" />
<text x="33.60" y="212.40" font-size="8" text-anchor="end" font-weight="normal" fill="#2a2a2a" stroke="#222" stroke-width="0.22">PMA</text>
<text x="44.50" y="212.20" font-size="8" text-anchor="middle" font-weight="normal" fill="#2a2a2a" stroke="#222" stroke-width="0.22">-</text>
<text x="56.30" y="212.20" font-size="8" text-anchor="middle" font-weight="normal" fill="#2a2a2a" stroke="#222" stroke-width="0.22">+</text>
<text x="70.80" y="212.20" font-size="8" text-anchor="middle" font-weight="normal" fill="#2a2a2a" stroke="#222" stroke-width="0.22">-</text>
<text x="83.80" y="212.20" font-size="8" text-anchor="middle" font-weight="normal" fill="#2a2a2a" stroke="#222" stroke-width="0.22">+</text>
<text x="98.00" y="212.20" font-size="8" text-anchor="middle" font-weight="normal" fill="#2a2a2a" stroke="#222" stroke-width="0.22">-</text>
<text x="110.20" y="212.20" font-size="8" text-anchor="middle" font-weight="normal" fill="#2a2a2a" stroke="#222" stroke-width="0.22">+</text>
<text x="123.00" y="212.20" font-size="8" text-anchor="middle" font-weight="normal" fill="#2a2a2a" stroke="#222" stroke-width="0.22">-</text>
<text x="136.30" y="212.20" font-size="8" text-anchor="middle" font-weight="normal" fill="#2a2a2a" stroke="#222" stroke-width="0.22">+</text>
<rect x="36.00" y="216.5" width="109.30" height="12.2" fill="#fff" stroke="#555" stroke-width="0.9"/>
<rect x="36.00" y="231.5" width="109.30" height="11.8" fill="#f4f4f4" stroke="#555" stroke-width="0.9"/>
<text x="33.60" y="225.60" font-size="8" text-anchor="end" font-weight="normal" fill="#2a2a2a" stroke="#222" stroke-width="0.22">p-Erk</text>
<text x="33.60" y="240.40" font-size="8" text-anchor="end" font-weight="normal" fill="#2a2a2a" stroke="#222" stroke-width="0.22">Erk</text>
<rect x="52.40" y="220.25" width="10.00" height="2.70" rx="1.35" fill="#0a0a0a" fill-opacity="0.92" filter="url(#bl)"/>
<rect x="52.30" y="223.25" width="10.20" height="2.90" rx="1.45" fill="#0a0a0a" fill-opacity="0.96" filter="url(#bl)"/>
<rect x="78.05" y="219.80" width="11.50" height="3.20" rx="1.60" fill="#0a0a0a" fill-opacity="0.97" filter="url(#bl)"/>
<rect x="77.90" y="223.20" width="11.80" height="3.40" rx="1.70" fill="#0a0a0a" fill-opacity="0.99" filter="url(#bl)"/>
<rect x="106.10" y="220.20" width="9.00" height="1.80" rx="0.90" fill="#0a0a0a" fill-opacity="0.75" filter="url(#bl)"/>
<rect x="106.00" y="223.20" width="9.20" height="2.40" rx="1.20" fill="#0a0a0a" fill-opacity="0.95" filter="url(#bl)"/>
<rect x="131.90" y="220.30" width="9.20" height="1.80" rx="0.90" fill="#0a0a0a" fill-opacity="0.8" filter="url(#bl)"/>
<rect x="131.80" y="223.00" width="9.40" height="2.60" rx="1.30" fill="#0a0a0a" fill-opacity="0.97" filter="url(#bl)"/>
<rect x="37.70" y="234.30" width="10.00" height="2.00" rx="1.00" fill="#0a0a0a" fill-opacity="0.85" filter="url(#bl)"/>
<rect x="37.30" y="237.95" width="10.80" height="3.30" rx="1.65" fill="#0a0a0a" fill-opacity="0.97" filter="url(#bl)"/>
<rect x="51.80" y="234.30" width="10.00" height="2.00" rx="1.00" fill="#0a0a0a" fill-opacity="0.85" filter="url(#bl)"/>
<rect x="51.40" y="237.95" width="10.80" height="3.30" rx="1.65" fill="#0a0a0a" fill-opacity="0.97" filter="url(#bl)"/>
<rect x="64.60" y="234.30" width="10.00" height="2.00" rx="1.00" fill="#0a0a0a" fill-opacity="0.85" filter="url(#bl)"/>
<rect x="64.20" y="237.95" width="10.80" height="3.30" rx="1.65" fill="#0a0a0a" fill-opacity="0.97" filter="url(#bl)"/>
<rect x="78.60" y="234.30" width="10.00" height="2.00" rx="1.00" fill="#0a0a0a" fill-opacity="0.4" filter="url(#bl)"/>
<rect x="78.20" y="237.95" width="10.80" height="3.30" rx="1.65" fill="#0a0a0a" fill-opacity="0.97" filter="url(#bl)"/>
<rect x="92.10" y="234.30" width="10.00" height="2.00" rx="1.00" fill="#0a0a0a" fill-opacity="0.8" filter="url(#bl)"/>
<rect x="91.70" y="237.95" width="10.80" height="3.30" rx="1.65" fill="#0a0a0a" fill-opacity="0.97" filter="url(#bl)"/>
<rect x="105.40" y="234.30" width="10.00" height="2.00" rx="1.00" fill="#0a0a0a" fill-opacity="0.45" filter="url(#bl)"/>
<rect x="105.00" y="237.95" width="10.80" height="3.30" rx="1.65" fill="#0a0a0a" fill-opacity="0.97" filter="url(#bl)"/>
<rect x="117.30" y="234.30" width="10.00" height="2.00" rx="1.00" fill="#0a0a0a" fill-opacity="0.85" filter="url(#bl)"/>
<rect x="116.90" y="237.95" width="10.80" height="3.30" rx="1.65" fill="#0a0a0a" fill-opacity="0.97" filter="url(#bl)"/>
<rect x="131.50" y="234.30" width="10.00" height="2.00" rx="1.00" fill="#0a0a0a" fill-opacity="0.8" filter="url(#bl)"/>
<rect x="131.10" y="237.95" width="10.80" height="3.30" rx="1.65" fill="#0a0a0a" fill-opacity="0.97" filter="url(#bl)"/>
<text transform="translate(171.20,168.80) scale(0.98,1)" x="0" y="0" font-size="10.5" font-weight="bold" fill="#111" stroke="#111" stroke-width="0.35">E</text>
<text x="231.00" y="181.70" font-size="8" text-anchor="middle" font-weight="normal" fill="#2a2a2a" stroke="#222" stroke-width="0.22">6-NC</text>
<text x="283.50" y="181.70" font-size="8" text-anchor="middle" font-weight="normal" fill="#2a2a2a" stroke="#222" stroke-width="0.22">6-shP2</text>
<line x1="209.50" y1="186.70" x2="253.80" y2="186.70" stroke="#2a2a2a" stroke-width="1.35" />
<line x1="262.50" y1="186.70" x2="307.00" y2="186.70" stroke="#2a2a2a" stroke-width="1.35" />
<text x="217.80" y="197.40" font-size="8" text-anchor="middle" font-weight="normal" fill="#2a2a2a" stroke="#222" stroke-width="0.22">NC</text>
<text x="244.80" y="197.40" font-size="8" text-anchor="middle" font-weight="normal" fill="#2a2a2a" stroke="#222" stroke-width="0.22">shC</text>
<text x="271.80" y="197.40" font-size="8" text-anchor="middle" font-weight="normal" fill="#2a2a2a" stroke="#222" stroke-width="0.22">NC</text>
<text x="298.10" y="197.40" font-size="8" text-anchor="middle" font-weight="normal" fill="#2a2a2a" stroke="#222" stroke-width="0.22">shC</text>
<line x1="207.00" y1="201.70" x2="229.50" y2="201.70" stroke="#2a2a2a" stroke-width="1.35" />
<line x1="233.80" y1="201.70" x2="255.00" y2="201.70" stroke="#2a2a2a" stroke-width="1.35" />
<line x1="260.50" y1="201.70" x2="282.50" y2="201.70" stroke="#2a2a2a" stroke-width="1.35" />
<line x1="287.50" y1="201.70" x2="308.80" y2="201.70" stroke="#2a2a2a" stroke-width="1.35" />
<text x="200.30" y="212.40" font-size="8" text-anchor="end" font-weight="normal" fill="#2a2a2a" stroke="#222" stroke-width="0.22">PMA</text>
<text x="211.30" y="212.20" font-size="8" text-anchor="middle" font-weight="normal" fill="#2a2a2a" stroke="#222" stroke-width="0.22">-</text>
<text x="223.80" y="212.20" font-size="8" text-anchor="middle" font-weight="normal" fill="#2a2a2a" stroke="#222" stroke-width="0.22">+</text>
<text x="237.50" y="212.20" font-size="8" text-anchor="middle" font-weight="normal" fill="#2a2a2a" stroke="#222" stroke-width="0.22">-</text>
<text x="250.00" y="212.20" font-size="8" text-anchor="middle" font-weight="normal" fill="#2a2a2a" stroke="#222" stroke-width="0.22">+</text>
<text x="264.50" y="212.20" font-size="8" text-anchor="middle" font-weight="normal" fill="#2a2a2a" stroke="#222" stroke-width="0.22">-</text>
<text x="277.50" y="212.20" font-size="8" text-anchor="middle" font-weight="normal" fill="#2a2a2a" stroke="#222" stroke-width="0.22">+</text>
<text x="291.30" y="212.20" font-size="8" text-anchor="middle" font-weight="normal" fill="#2a2a2a" stroke="#222" stroke-width="0.22">-</text>
<text x="303.00" y="212.20" font-size="8" text-anchor="middle" font-weight="normal" fill="#2a2a2a" stroke="#222" stroke-width="0.22">+</text>
<rect x="202.80" y="216.5" width="109.00" height="12.2" fill="#fff" stroke="#555" stroke-width="0.9"/>
<rect x="202.80" y="231.5" width="109.00" height="11.8" fill="#ececec" stroke="#555" stroke-width="0.9"/>
<text x="200.30" y="225.60" font-size="8" text-anchor="end" font-weight="normal" fill="#2a2a2a" stroke="#222" stroke-width="0.22">p-Erk</text>
<text x="200.30" y="240.40" font-size="8" text-anchor="end" font-weight="normal" fill="#2a2a2a" stroke="#222" stroke-width="0.22">Erk</text>
<rect x="220.75" y="220.90" width="8.50" height="1.80" rx="0.90" fill="#0a0a0a" fill-opacity="0.88" filter="url(#bl)"/>
<rect x="220.75" y="223.70" width="8.50" height="2.60" rx="1.30" fill="#0a0a0a" fill-opacity="0.95" filter="url(#bl)"/>
<rect x="234.90" y="221.90" width="7.00" height="1.20" rx="0.60" fill="#0a0a0a" fill-opacity="0.1" filter="url(#bl)"/>
<rect x="246.55" y="220.60" width="10.50" height="2.40" rx="1.20" fill="#0a0a0a" fill-opacity="0.95" filter="url(#bl)"/>
<rect x="246.55" y="223.50" width="10.50" height="3.00" rx="1.50" fill="#0a0a0a" fill-opacity="0.99" filter="url(#bl)"/>
<rect x="273.50" y="220.70" width="7.00" height="1.00" rx="0.50" fill="#0a0a0a" fill-opacity="0.1" filter="url(#bl)"/>
<rect x="272.75" y="223.90" width="8.50" height="1.80" rx="0.90" fill="#0a0a0a" fill-opacity="0.6" filter="url(#bl)"/>
<rect x="299.15" y="220.40" width="8.50" height="1.60" rx="0.80" fill="#0a0a0a" fill-opacity="0.45" filter="url(#bl)"/>
<rect x="299.15" y="223.55" width="8.50" height="2.50" rx="1.25" fill="#0a0a0a" fill-opacity="0.95" filter="url(#bl)"/>
<rect x="206.75" y="233.70" width="10.50" height="1.80" rx="0.90" fill="#0a0a0a" fill-opacity="0.18" filter="url(#bl)"/>
<rect x="205.80" y="237.20" width="12.40" height="4.20" rx="2.10" fill="#0a0a0a" fill-opacity="0.98" filter="url(#bl)"/>
<rect x="219.75" y="233.70" width="10.50" height="1.80" rx="0.90" fill="#0a0a0a" fill-opacity="0.18" filter="url(#bl)"/>
<rect x="218.80" y="237.20" width="12.40" height="4.20" rx="2.10" fill="#0a0a0a" fill-opacity="0.98" filter="url(#bl)"/>
<rect x="233.15" y="233.70" width="10.50" height="1.80" rx="0.90" fill="#0a0a0a" fill-opacity="0.18" filter="url(#bl)"/>
<rect x="232.20" y="237.20" width="12.40" height="4.20" rx="2.10" fill="#0a0a0a" fill-opacity="0.98" filter="url(#bl)"/>
<rect x="246.35" y="233.70" width="10.50" height="1.80" rx="0.90" fill="#0a0a0a" fill-opacity="0.18" filter="url(#bl)"/>
<rect x="245.40" y="237.20" width="12.40" height="4.20" rx="2.10" fill="#0a0a0a" fill-opacity="0.98" filter="url(#bl)"/>
<rect x="260.15" y="233.70" width="10.50" height="1.80" rx="0.90" fill="#0a0a0a" fill-opacity="0.18" filter="url(#bl)"/>
<rect x="259.20" y="237.20" width="12.40" height="4.20" rx="2.10" fill="#0a0a0a" fill-opacity="0.98" filter="url(#bl)"/>
<rect x="273.65" y="233.70" width="10.50" height="1.80" rx="0.90" fill="#0a0a0a" fill-opacity="0.18" filter="url(#bl)"/>
<rect x="272.70" y="237.20" width="12.40" height="4.20" rx="2.10" fill="#0a0a0a" fill-opacity="0.98" filter="url(#bl)"/>
<rect x="286.25" y="233.70" width="10.50" height="1.80" rx="0.90" fill="#0a0a0a" fill-opacity="0.18" filter="url(#bl)"/>
<rect x="285.30" y="237.20" width="12.40" height="4.20" rx="2.10" fill="#0a0a0a" fill-opacity="0.98" filter="url(#bl)"/>
<rect x="299.15" y="233.70" width="10.50" height="1.80" rx="0.90" fill="#0a0a0a" fill-opacity="0.18" filter="url(#bl)"/>
<rect x="298.20" y="237.20" width="12.40" height="4.20" rx="2.10" fill="#0a0a0a" fill-opacity="0.98" filter="url(#bl)"/>
<text transform="translate(347.00,168.80) scale(1.0,1)" x="0" y="0" font-size="10.5" font-weight="bold" fill="#111" stroke="#111" stroke-width="0.35">F</text>
<text x="406.00" y="181.70" font-size="8" text-anchor="middle" font-weight="normal" fill="#2a2a2a" stroke="#222" stroke-width="0.22">1-NC</text>
<text x="458.20" y="181.70" font-size="8" text-anchor="middle" font-weight="normal" fill="#2a2a2a" stroke="#222" stroke-width="0.22">1-shP2</text>
<line x1="383.80" y1="186.70" x2="428.00" y2="186.70" stroke="#2a2a2a" stroke-width="1.35" />
<line x1="436.30" y1="186.70" x2="481.30" y2="186.70" stroke="#2a2a2a" stroke-width="1.35" />
<text x="392.30" y="197.40" font-size="8" text-anchor="middle" font-weight="normal" fill="#2a2a2a" stroke="#222" stroke-width="0.22">NC</text>
<text x="418.90" y="197.40" font-size="8" text-anchor="middle" font-weight="normal" fill="#2a2a2a" stroke="#222" stroke-width="0.22">shC</text>
<text x="446.00" y="197.40" font-size="8" text-anchor="middle" font-weight="normal" fill="#2a2a2a" stroke="#222" stroke-width="0.22">NC</text>
<text x="472.90" y="197.40" font-size="8" text-anchor="middle" font-weight="normal" fill="#2a2a2a" stroke="#222" stroke-width="0.22">shC</text>
<line x1="381.30" y1="201.70" x2="403.80" y2="201.70" stroke="#2a2a2a" stroke-width="1.35" />
<line x1="408.00" y1="201.70" x2="429.50" y2="201.70" stroke="#2a2a2a" stroke-width="1.35" />
<line x1="434.50" y1="201.70" x2="457.00" y2="201.70" stroke="#2a2a2a" stroke-width="1.35" />
<line x1="462.00" y1="201.70" x2="483.00" y2="201.70" stroke="#2a2a2a" stroke-width="1.35" />
<text x="374.70" y="212.40" font-size="8" text-anchor="end" font-weight="normal" fill="#2a2a2a" stroke="#222" stroke-width="0.22">PMA</text>
<text x="385.80" y="212.20" font-size="8" text-anchor="middle" font-weight="normal" fill="#2a2a2a" stroke="#222" stroke-width="0.22">-</text>
<text x="398.00" y="212.20" font-size="8" text-anchor="middle" font-weight="normal" fill="#2a2a2a" stroke="#222" stroke-width="0.22">+</text>
<text x="412.50" y="212.20" font-size="8" text-anchor="middle" font-weight="normal" fill="#2a2a2a" stroke="#222" stroke-width="0.22">-</text>
<text x="424.50" y="212.20" font-size="8" text-anchor="middle" font-weight="normal" fill="#2a2a2a" stroke="#222" stroke-width="0.22">+</text>
<text x="439.50" y="212.20" font-size="8" text-anchor="middle" font-weight="normal" fill="#2a2a2a" stroke="#222" stroke-width="0.22">-</text>
<text x="451.30" y="212.20" font-size="8" text-anchor="middle" font-weight="normal" fill="#2a2a2a" stroke="#222" stroke-width="0.22">+</text>
<text x="465.50" y="212.20" font-size="8" text-anchor="middle" font-weight="normal" fill="#2a2a2a" stroke="#222" stroke-width="0.22">-</text>
<text x="477.50" y="212.20" font-size="8" text-anchor="middle" font-weight="normal" fill="#2a2a2a" stroke="#222" stroke-width="0.22">+</text>
<rect x="377.30" y="216.5" width="109.10" height="12.2" fill="#d8d8d8" stroke="#555" stroke-width="0.9"/>
<rect x="377.30" y="231.5" width="109.10" height="11.8" fill="#e6e6e6" stroke="#555" stroke-width="0.9"/>
<text x="374.70" y="225.60" font-size="8" text-anchor="end" font-weight="normal" fill="#2a2a2a" stroke="#222" stroke-width="0.22">p-Erk</text>
<text x="374.70" y="240.40" font-size="8" text-anchor="end" font-weight="normal" fill="#2a2a2a" stroke="#222" stroke-width="0.22">Erk</text>
<rect x="394.90" y="222.95" width="10.00" height="2.50" rx="1.25" fill="#0a0a0a" fill-opacity="0.95" filter="url(#bl)"/>
<rect x="419.50" y="222.00" width="11.00" height="4.40" rx="2.20" fill="#0a0a0a" fill-opacity="0.99" filter="url(#bl)"/>
<rect x="446.55" y="222.95" width="8.50" height="1.50" rx="0.75" fill="#0a0a0a" fill-opacity="0.6" filter="url(#bl)"/>
<rect x="472.55" y="221.55" width="10.50" height="2.50" rx="1.25" fill="#0a0a0a" fill-opacity="0.95" filter="url(#bl)"/>
<rect x="379.75" y="233.70" width="7.50" height="1.80" rx="0.90" fill="#0a0a0a" fill-opacity="0.85" filter="url(#bl)"/>
<rect x="379.75" y="237.05" width="7.50" height="2.30" rx="1.15" fill="#0a0a0a" fill-opacity="0.92" filter="url(#bl)"/>
<rect x="394.00" y="234.20" width="8.00" height="1.20" rx="0.60" fill="#0a0a0a" fill-opacity="0.35" filter="url(#bl)"/>
<rect x="393.75" y="237.75" width="8.50" height="2.30" rx="1.15" fill="#0a0a0a" fill-opacity="0.9" filter="url(#bl)"/>
<rect x="407.75" y="234.30" width="8.50" height="1.00" rx="0.50" fill="#0a0a0a" fill-opacity="0.3" filter="url(#bl)"/>
<rect x="407.75" y="238.20" width="8.50" height="2.00" rx="1.00" fill="#0a0a0a" fill-opacity="0.8" filter="url(#bl)"/>
<rect x="421.70" y="234.60" width="8.00" height="1.60" rx="0.80" fill="#0a0a0a" fill-opacity="0.65" filter="url(#bl)"/>
<rect x="421.60" y="237.85" width="8.20" height="2.30" rx="1.15" fill="#0a0a0a" fill-opacity="0.92" filter="url(#bl)"/>
<rect x="434.80" y="234.60" width="8.00" height="1.80" rx="0.90" fill="#0a0a0a" fill-opacity="0.7" filter="url(#bl)"/>
<rect x="434.80" y="238.15" width="8.00" height="2.30" rx="1.15" fill="#0a0a0a" fill-opacity="0.92" filter="url(#bl)"/>
<rect x="447.90" y="234.80" width="8.00" height="1.40" rx="0.70" fill="#0a0a0a" fill-opacity="0.5" filter="url(#bl)"/>
<rect x="447.65" y="238.45" width="8.50" height="2.30" rx="1.15" fill="#0a0a0a" fill-opacity="0.9" filter="url(#bl)"/>
<rect x="461.30" y="234.40" width="8.00" height="1.20" rx="0.60" fill="#0a0a0a" fill-opacity="0.4" filter="url(#bl)"/>
<rect x="461.05" y="237.65" width="8.50" height="2.30" rx="1.15" fill="#0a0a0a" fill-opacity="0.9" filter="url(#bl)"/>
<rect x="474.50" y="233.50" width="8.00" height="1.00" rx="0.50" fill="#0a0a0a" fill-opacity="0.3" filter="url(#bl)"/>
<rect x="474.25" y="236.50" width="8.50" height="2.20" rx="1.10" fill="#0a0a0a" fill-opacity="0.9" filter="url(#bl)"/>
<text transform="translate(11.00,268.80) scale(1.15,1)" x="0" y="0" font-size="10.5" font-weight="bold" fill="#111" stroke="#111" stroke-width="0.35">G</text>
<text x="44.00" y="307.40" font-size="8.2" text-anchor="end" font-weight="normal" fill="#2a2a2a" stroke="#2a2a2a" stroke-width="0.18">NC NC</text>
<text x="44.00" y="322.40" font-size="8.2" text-anchor="end" font-weight="normal" fill="#2a2a2a" stroke="#2a2a2a" stroke-width="0.18">NC shC</text>
<text x="44.00" y="337.90" font-size="8.2" text-anchor="end" font-weight="normal" fill="#2a2a2a" stroke="#2a2a2a" stroke-width="0.18">shP NC</text>
<text x="44.00" y="354.20" font-size="8.2" text-anchor="end" font-weight="normal" fill="#2a2a2a" stroke="#2a2a2a" stroke-width="0.18">shP shC</text>
<rect x="47.2" y="296.2" width="101.4" height="58.8" fill="url(#photo)"/>
<rect x="47.2" y="296.2" width="7.6" height="58.8" fill="#4d7cba"/><rect x="49.6" y="296.2" width="3.6" height="58.8" fill="#6390cc"/>
<line x1="48.8" y1="298.0" x2="53" y2="298.0" stroke="#2c4c86" stroke-width="0.7"/>
<line x1="50.0" y1="300.4" x2="53" y2="300.4" stroke="#2c4c86" stroke-width="0.7"/>
<line x1="50.0" y1="302.8" x2="53" y2="302.8" stroke="#2c4c86" stroke-width="0.7"/>
<line x1="50.0" y1="305.2" x2="53" y2="305.2" stroke="#2c4c86" stroke-width="0.7"/>
<line x1="50.0" y1="307.6" x2="53" y2="307.6" stroke="#2c4c86" stroke-width="0.7"/>
<line x1="48.8" y1="310.0" x2="53" y2="310.0" stroke="#2c4c86" stroke-width="0.7"/>
<line x1="50.0" y1="312.4" x2="53" y2="312.4" stroke="#2c4c86" stroke-width="0.7"/>
<line x1="50.0" y1="314.8" x2="53" y2="314.8" stroke="#2c4c86" stroke-width="0.7"/>
<line x1="50.0" y1="317.2" x2="53" y2="317.2" stroke="#2c4c86" stroke-width="0.7"/>
<line x1="50.0" y1="319.6" x2="53" y2="319.6" stroke="#2c4c86" stroke-width="0.7"/>
<line x1="48.8" y1="322.0" x2="53" y2="322.0" stroke="#2c4c86" stroke-width="0.7"/>
<line x1="50.0" y1="324.4" x2="53" y2="324.4" stroke="#2c4c86" stroke-width="0.7"/>
<line x1="50.0" y1="326.8" x2="53" y2="326.8" stroke="#2c4c86" stroke-width="0.7"/>
<line x1="50.0" y1="329.2" x2="53" y2="329.2" stroke="#2c4c86" stroke-width="0.7"/>
<line x1="50.0" y1="331.6" x2="53" y2="331.6" stroke="#2c4c86" stroke-width="0.7"/>
<line x1="48.8" y1="334.0" x2="53" y2="334.0" stroke="#2c4c86" stroke-width="0.7"/>
<line x1="50.0" y1="336.4" x2="53" y2="336.4" stroke="#2c4c86" stroke-width="0.7"/>
<line x1="50.0" y1="338.8" x2="53" y2="338.8" stroke="#2c4c86" stroke-width="0.7"/>
<line x1="50.0" y1="341.2" x2="53" y2="341.2" stroke="#2c4c86" stroke-width="0.7"/>
<line x1="50.0" y1="343.6" x2="53" y2="343.6" stroke="#2c4c86" stroke-width="0.7"/>
<line x1="48.8" y1="346.0" x2="53" y2="346.0" stroke="#2c4c86" stroke-width="0.7"/>
<line x1="50.0" y1="348.4" x2="53" y2="348.4" stroke="#2c4c86" stroke-width="0.7"/>
<line x1="50.0" y1="350.8" x2="53" y2="350.8" stroke="#2c4c86" stroke-width="0.7"/>
<line x1="50.0" y1="353.2" x2="53" y2="353.2" stroke="#2c4c86" stroke-width="0.7"/>
<path d="M70.76,301.73 Q70.88,302.91 69.80,304.68 Q68.72,306.44 67.36,307.01 Q66.01,307.58 64.38,307.39 Q62.75,307.21 60.91,305.82 Q59.06,304.43 59.32,303.31 Q59.57,302.20 60.31,300.71 Q61.05,299.22 63.67,299.15 Q66.29,299.08 68.46,299.82 Q70.64,300.55 70.76,301.73 Z" fill="url(#tum)" filter="url(#bl)"/>
<ellipse cx="65.37" cy="303.28" rx="1.54" ry="1.02" fill="#7a5428" fill-opacity="0.45" filter="url(#bl)"/>
<path d="M85.49,301.59 Q85.26,302.48 84.84,303.99 Q84.42,305.51 83.55,306.18 Q82.69,306.86 81.39,306.94 Q80.10,307.02 78.63,305.86 Q77.17,304.70 77.25,303.07 Q77.34,301.45 78.30,300.29 Q79.27,299.13 80.70,299.06 Q82.14,298.98 83.93,299.84 Q85.72,300.70 85.49,301.59 Z" fill="url(#tum)" filter="url(#bl)"/>
<ellipse cx="82.32" cy="303.50" rx="1.12" ry="0.96" fill="#7a5428" fill-opacity="0.45" filter="url(#bl)"/>
<path d="M98.84,301.37 Q99.34,302.74 98.96,303.85 Q98.59,304.96 97.32,305.83 Q96.05,306.70 94.79,306.31 Q93.53,305.92 92.63,304.80 Q91.74,303.68 92.02,303.08 Q92.30,302.47 93.39,300.97 Q94.47,299.47 95.80,299.50 Q97.13,299.54 97.73,299.77 Q98.33,300.01 98.84,301.37 Z" fill="url(#tum)" filter="url(#bl)"/>
<ellipse cx="96.47" cy="302.45" rx="0.98" ry="0.84" fill="#7a5428" fill-opacity="0.45" filter="url(#bl)"/>
<path d="M112.43,301.52 Q112.92,302.48 112.47,304.09 Q112.02,305.71 111.41,305.82 Q110.80,305.93 109.77,305.85 Q108.75,305.76 107.79,304.73 Q106.84,303.69 106.80,302.75 Q106.77,301.81 107.23,301.02 Q107.70,300.22 108.80,299.90 Q109.89,299.59 110.91,300.08 Q111.93,300.56 112.43,301.52 Z" fill="url(#tum)" filter="url(#bl)"/>
<path d="M125.50,301.78 Q126.07,302.64 125.57,304.19 Q125.08,305.74 124.31,306.12 Q123.54,306.49 122.28,306.22 Q121.03,305.95 119.84,304.83 Q118.65,303.70 118.49,303.00 Q118.33,302.31 119.35,301.40 Q120.37,300.50 121.94,300.23 Q123.52,299.96 124.22,300.44 Q124.93,300.92 125.50,301.78 Z" fill="url(#tum)" filter="url(#bl)"/>
<ellipse cx="121.52" cy="303.20" rx="0.98" ry="0.72" fill="#7a5428" fill-opacity="0.45" filter="url(#bl)"/>
<path d="M136.87,301.49 Q137.37,302.65 136.94,303.81 Q136.50,304.97 134.98,305.63 Q133.47,306.29 132.40,306.17 Q131.33,306.05 130.86,305.22 Q130.40,304.39 130.17,302.82 Q129.94,301.26 130.69,300.89 Q131.45,300.52 133.03,300.00 Q134.62,299.48 135.50,299.91 Q136.37,300.33 136.87,301.49 Z" fill="url(#tum)" filter="url(#bl)"/>
<ellipse cx="134.42" cy="303.25" rx="0.98" ry="0.72" fill="#7a5428" fill-opacity="0.45" filter="url(#bl)"/>
<path d="M146.52,302.00 Q146.73,302.91 146.82,303.85 Q146.91,304.80 145.96,305.56 Q145.01,306.33 143.98,306.28 Q142.95,306.24 142.31,305.10 Q141.67,303.96 141.49,303.10 Q141.32,302.24 141.92,301.44 Q142.52,300.63 143.66,300.06 Q144.80,299.49 145.55,300.30 Q146.31,301.10 146.52,302.00 Z" fill="url(#tum)" filter="url(#bl)"/>
<path d="M69.75,318.14 Q70.77,320.81 70.49,321.80 Q70.21,322.79 68.15,324.17 Q66.10,325.55 64.38,325.60 Q62.66,325.66 61.10,323.67 Q59.55,321.68 58.98,319.70 Q58.40,317.72 60.64,315.55 Q62.87,313.37 64.73,313.35 Q66.60,313.33 67.66,314.39 Q68.73,315.46 69.75,318.14 Z" fill="url(#tum)" filter="url(#bl)"/>
<ellipse cx="63.84" cy="320.78" rx="1.68" ry="1.50" fill="#7a5428" fill-opacity="0.45" filter="url(#bl)"/>
<path d="M86.45,317.51 Q87.37,320.45 86.83,321.95 Q86.29,323.46 84.40,325.42 Q82.51,327.38 80.71,327.27 Q78.91,327.16 77.88,325.31 Q76.85,323.46 76.55,319.91 Q76.25,316.36 77.72,314.60 Q79.19,312.84 81.18,312.47 Q83.18,312.11 84.35,313.34 Q85.52,314.56 86.45,317.51 Z" fill="url(#tum)" filter="url(#bl)"/>
<ellipse cx="82.46" cy="320.69" rx="1.40" ry="1.68" fill="#7a5428" fill-opacity="0.45" filter="url(#bl)"/>
<path d="M101.72,317.44 Q102.54,319.58 101.30,322.08 Q100.06,324.59 98.31,325.23 Q96.56,325.87 94.47,325.58 Q92.38,325.29 91.26,324.15 Q90.14,323.02 90.03,319.62 Q89.93,316.23 91.58,315.23 Q93.23,314.23 95.37,313.92 Q97.50,313.61 99.21,314.45 Q100.91,315.30 101.72,317.44 Z" fill="url(#tum)" filter="url(#bl)"/>
<ellipse cx="94.80" cy="320.40" rx="1.68" ry="1.44" fill="#7a5428" fill-opacity="0.45" filter="url(#bl)"/>
<path d="M114.64,317.26 Q115.13,318.74 114.38,320.92 Q113.62,323.11 111.96,324.21 Q110.30,325.32 108.48,325.13 Q106.65,324.95 106.12,323.43 Q105.58,321.92 105.03,320.09 Q104.47,318.26 105.67,316.98 Q106.88,315.71 109.25,315.03 Q111.62,314.36 112.89,315.08 Q114.15,315.79 114.64,317.26 Z" fill="url(#tum)" filter="url(#bl)"/>
<ellipse cx="109.38" cy="320.20" rx="1.40" ry="1.26" fill="#7a5428" fill-opacity="0.45" filter="url(#bl)"/>
<path d="M126.55,317.65 Q127.19,319.11 126.64,321.79 Q126.10,324.46 124.35,324.95 Q122.60,325.44 121.34,324.97 Q120.07,324.51 119.18,323.53 Q118.28,322.55 118.09,319.71 Q117.90,316.88 119.07,315.43 Q120.24,313.98 121.56,314.23 Q122.88,314.48 124.40,315.34 Q125.92,316.19 126.55,317.65 Z" fill="url(#tum)" filter="url(#bl)"/>
<ellipse cx="121.81" cy="319.59" rx="1.26" ry="1.32" fill="#7a5428" fill-opacity="0.45" filter="url(#bl)"/>
<path d="M136.66,318.66 Q137.29,320.02 137.06,321.27 Q136.83,322.52 135.13,323.28 Q133.43,324.05 132.88,323.72 Q132.33,323.38 131.26,321.97 Q130.19,320.56 130.09,319.26 Q129.99,317.97 130.60,316.98 Q131.20,316.00 132.32,315.94 Q133.44,315.88 134.74,316.59 Q136.04,317.30 136.66,318.66 Z" fill="url(#tum)" filter="url(#bl)"/>
<ellipse cx="134.29" cy="319.17" rx="0.98" ry="0.96" fill="#7a5428" fill-opacity="0.45" filter="url(#bl)"/>
<path d="M146.58,318.06 Q146.89,319.25 146.65,320.97 Q146.40,322.69 145.50,323.46 Q144.59,324.23 143.37,323.92 Q142.16,323.61 141.82,322.25 Q141.48,320.88 141.51,319.68 Q141.55,318.48 141.87,317.53 Q142.20,316.59 143.56,316.28 Q144.92,315.96 145.60,316.41 Q146.27,316.86 146.58,318.06 Z" fill="url(#tum)" filter="url(#bl)"/>
<path d="M67.49,334.38 Q67.60,335.21 67.32,336.04 Q67.03,336.87 66.32,337.29 Q65.60,337.72 64.56,337.26 Q63.52,336.81 62.91,336.15 Q62.30,335.48 62.39,334.98 Q62.48,334.49 63.09,333.47 Q63.70,332.46 64.51,332.42 Q65.33,332.38 66.35,332.97 Q67.38,333.55 67.49,334.38 Z" fill="url(#tums)" filter="url(#bl)"/>
<path d="M83.83,334.57 Q84.04,335.46 83.65,336.06 Q83.25,336.66 82.50,337.23 Q81.74,337.79 80.87,337.54 Q80.00,337.29 79.48,336.78 Q78.95,336.27 78.98,334.89 Q79.02,333.51 79.58,333.04 Q80.15,332.57 80.97,332.37 Q81.79,332.16 82.71,332.92 Q83.63,333.68 83.83,334.57 Z" fill="url(#tums)" filter="url(#bl)"/>
<path d="M98.21,334.06 Q98.33,334.57 98.11,335.70 Q97.88,336.82 97.05,337.04 Q96.21,337.27 95.30,337.06 Q94.40,336.86 93.93,336.20 Q93.47,335.54 93.30,334.88 Q93.13,334.22 93.73,333.68 Q94.33,333.13 95.31,332.72 Q96.29,332.31 97.20,332.93 Q98.10,333.55 98.21,334.06 Z" fill="url(#tums)" filter="url(#bl)"/>
<path d="M111.79,334.30 Q112.06,335.41 111.59,336.00 Q111.12,336.59 110.79,336.91 Q110.45,337.22 109.61,337.21 Q108.77,337.20 108.18,336.43 Q107.59,335.67 107.66,334.79 Q107.74,333.91 108.14,333.53 Q108.54,333.15 109.56,332.88 Q110.58,332.60 111.04,332.89 Q111.51,333.19 111.79,334.30 Z" fill="url(#tums)" filter="url(#bl)"/>
<path d="M124.34,334.55 Q124.58,335.39 124.27,335.84 Q123.96,336.30 123.40,336.69 Q122.84,337.07 122.17,336.82 Q121.50,336.57 120.96,335.96 Q120.42,335.34 120.39,334.83 Q120.36,334.31 120.93,333.74 Q121.50,333.16 122.23,333.17 Q122.97,333.18 123.53,333.44 Q124.10,333.70 124.34,334.55 Z" fill="url(#tums)" filter="url(#bl)"/>
<path d="M135.31,334.49 Q135.77,335.42 135.50,335.80 Q135.22,336.19 134.69,336.57 Q134.16,336.96 133.13,336.90 Q132.11,336.83 131.86,336.27 Q131.62,335.70 131.51,335.11 Q131.40,334.52 132.12,333.86 Q132.84,333.21 133.43,333.21 Q134.03,333.22 134.43,333.39 Q134.84,333.56 135.31,334.49 Z" fill="url(#tums)" filter="url(#bl)"/>
<path d="M145.69,334.39 Q145.92,335.13 145.80,335.62 Q145.68,336.11 145.25,336.45 Q144.82,336.80 144.18,336.74 Q143.54,336.68 143.12,336.20 Q142.70,335.72 142.62,335.05 Q142.54,334.37 142.89,333.95 Q143.24,333.52 143.88,333.45 Q144.51,333.38 144.99,333.51 Q145.47,333.65 145.69,334.39 Z" fill="url(#tums)" filter="url(#bl)"/>
<path d="M70.04,346.54 Q70.83,348.70 69.91,350.57 Q68.98,352.45 67.08,352.90 Q65.17,353.36 63.28,353.20 Q61.38,353.04 60.47,351.19 Q59.55,349.35 59.20,348.08 Q58.85,346.81 60.00,345.22 Q61.14,343.63 63.93,343.73 Q66.71,343.83 67.98,344.10 Q69.25,344.38 70.04,346.54 Z" fill="url(#tum)" filter="url(#bl)"/>
<ellipse cx="64.42" cy="347.43" rx="1.54" ry="1.20" fill="#7a5428" fill-opacity="0.45" filter="url(#bl)"/>
<path d="M85.69,347.13 Q86.65,349.02 85.73,350.30 Q84.81,351.58 83.74,352.44 Q82.67,353.30 81.29,352.96 Q79.90,352.61 77.90,351.23 Q75.90,349.84 76.63,348.01 Q77.36,346.17 78.03,345.08 Q78.70,343.98 80.58,343.72 Q82.47,343.46 83.60,344.35 Q84.73,345.24 85.69,347.13 Z" fill="url(#tum)" filter="url(#bl)"/>
<ellipse cx="80.55" cy="347.29" rx="1.40" ry="1.08" fill="#7a5428" fill-opacity="0.45" filter="url(#bl)"/>
<path d="M100.91,346.87 Q101.62,348.50 100.70,349.99 Q99.77,351.47 98.58,352.17 Q97.40,352.88 94.61,352.87 Q91.83,352.86 91.24,351.03 Q90.65,349.21 90.06,348.32 Q89.47,347.43 91.05,345.61 Q92.64,343.79 94.52,343.60 Q96.40,343.42 98.30,344.32 Q100.19,345.23 100.91,346.87 Z" fill="url(#tum)" filter="url(#bl)"/>
<ellipse cx="96.04" cy="347.23" rx="1.54" ry="1.14" fill="#7a5428" fill-opacity="0.45" filter="url(#bl)"/>
<path d="M113.82,347.14 Q114.44,348.82 113.91,349.89 Q113.38,350.96 111.75,352.02 Q110.13,353.08 109.19,352.77 Q108.25,352.46 107.24,351.15 Q106.22,349.83 106.00,347.87 Q105.77,345.90 106.78,344.79 Q107.80,343.69 109.27,343.76 Q110.74,343.83 111.97,344.65 Q113.20,345.46 113.82,347.14 Z" fill="url(#tum)" filter="url(#bl)"/>
<ellipse cx="110.96" cy="349.13" rx="1.12" ry="1.08" fill="#7a5428" fill-opacity="0.45" filter="url(#bl)"/>
<path d="M125.30,346.77 Q126.11,348.00 125.54,349.65 Q124.96,351.30 123.81,351.70 Q122.66,352.11 121.44,351.86 Q120.23,351.62 119.67,350.55 Q119.12,349.48 119.36,348.13 Q119.60,346.77 120.43,346.04 Q121.25,345.31 122.06,344.98 Q122.86,344.65 123.68,345.10 Q124.50,345.54 125.30,346.77 Z" fill="url(#tum)" filter="url(#bl)"/>
<path d="M136.58,347.29 Q136.89,348.62 136.71,349.68 Q136.53,350.74 135.19,351.39 Q133.84,352.03 132.74,351.82 Q131.64,351.62 131.05,350.62 Q130.47,349.62 130.53,347.98 Q130.59,346.35 131.29,345.55 Q132.00,344.75 133.27,345.01 Q134.55,345.26 135.41,345.61 Q136.27,345.96 136.58,347.29 Z" fill="url(#tum)" filter="url(#bl)"/>
<path d="M146.74,347.17 Q146.92,348.09 146.69,349.00 Q146.45,349.92 145.61,350.61 Q144.76,351.31 143.85,351.50 Q142.94,351.70 142.24,350.58 Q141.55,349.47 141.65,348.08 Q141.75,346.69 142.51,345.93 Q143.27,345.17 144.11,345.37 Q144.94,345.57 145.75,345.91 Q146.55,346.25 146.74,347.17 Z" fill="url(#tum)" filter="url(#bl)"/>
<text transform="translate(155.40,268.80) scale(1.12,1)" x="0" y="0" font-size="10.5" font-weight="bold" fill="#111" stroke="#111" stroke-width="0.35">H</text>
<line x1="205.60" y1="276.30" x2="205.60" y2="369.80" stroke="#111" stroke-width="1.4" />
<line x1="205.00" y1="369.20" x2="341.00" y2="369.20" stroke="#111" stroke-width="1.4" />
<line x1="202.30" y1="369.20" x2="205.60" y2="369.20" stroke="#111" stroke-width="1.2" />
<text x="199.60" y="372.10" font-size="8.2" text-anchor="end" font-weight="normal" fill="#333333" >0</text>
<line x1="202.30" y1="346.75" x2="205.60" y2="346.75" stroke="#111" stroke-width="1.2" />
<text x="199.60" y="349.65" font-size="8.2" text-anchor="end" font-weight="normal" fill="#333333" >800</text>
<line x1="202.30" y1="324.30" x2="205.60" y2="324.30" stroke="#111" stroke-width="1.2" />
<text x="199.60" y="327.20" font-size="8.2" text-anchor="end" font-weight="normal" fill="#333333" >1600</text>
<line x1="202.30" y1="301.85" x2="205.60" y2="301.85" stroke="#111" stroke-width="1.2" />
<text x="199.60" y="304.75" font-size="8.2" text-anchor="end" font-weight="normal" fill="#333333" >2400</text>
<line x1="202.30" y1="279.40" x2="205.60" y2="279.40" stroke="#111" stroke-width="1.2" />
<text x="199.60" y="282.30" font-size="8.2" text-anchor="end" font-weight="normal" fill="#333333" >3200</text>
<line x1="211.00" y1="369.20" x2="211.00" y2="372.20" stroke="#111" stroke-width="1.2" />
<text x="211.00" y="382.30" font-size="8.3" text-anchor="middle" font-weight="normal" fill="#2a2a2a" stroke="#2a2a2a" stroke-width="0.12">5</text>
<line x1="222.20" y1="369.20" x2="222.20" y2="372.20" stroke="#111" stroke-width="1.2" />
<text x="222.20" y="382.30" font-size="8.3" text-anchor="middle" font-weight="normal" fill="#2a2a2a" stroke="#2a2a2a" stroke-width="0.12">8</text>
<line x1="233.40" y1="369.20" x2="233.40" y2="372.20" stroke="#111" stroke-width="1.2" />
<text x="233.40" y="382.30" font-size="8.3" text-anchor="middle" font-weight="normal" fill="#2a2a2a" stroke="#2a2a2a" stroke-width="0.12">11</text>
<line x1="244.60" y1="369.20" x2="244.60" y2="372.20" stroke="#111" stroke-width="1.2" />
<text x="244.60" y="382.30" font-size="8.3" text-anchor="middle" font-weight="normal" fill="#2a2a2a" stroke="#2a2a2a" stroke-width="0.12">14</text>
<line x1="255.80" y1="369.20" x2="255.80" y2="372.20" stroke="#111" stroke-width="1.2" />
<text x="255.80" y="382.30" font-size="8.3" text-anchor="middle" font-weight="normal" fill="#2a2a2a" stroke="#2a2a2a" stroke-width="0.12">17</text>
<line x1="267.00" y1="369.20" x2="267.00" y2="372.20" stroke="#111" stroke-width="1.2" />
<text x="267.00" y="382.30" font-size="8.3" text-anchor="middle" font-weight="normal" fill="#2a2a2a" stroke="#2a2a2a" stroke-width="0.12">20</text>
<line x1="278.20" y1="369.20" x2="278.20" y2="372.20" stroke="#111" stroke-width="1.2" />
<text x="278.20" y="382.30" font-size="8.3" text-anchor="middle" font-weight="normal" fill="#2a2a2a" stroke="#2a2a2a" stroke-width="0.12">23</text>
<line x1="289.40" y1="369.20" x2="289.40" y2="372.20" stroke="#111" stroke-width="1.2" />
<text x="289.40" y="382.30" font-size="8.3" text-anchor="middle" font-weight="normal" fill="#2a2a2a" stroke="#2a2a2a" stroke-width="0.12">26</text>
<line x1="300.60" y1="369.20" x2="300.60" y2="372.20" stroke="#111" stroke-width="1.2" />
<text x="300.60" y="382.30" font-size="8.3" text-anchor="middle" font-weight="normal" fill="#2a2a2a" stroke="#2a2a2a" stroke-width="0.12">29</text>
<line x1="311.80" y1="369.20" x2="311.80" y2="372.20" stroke="#111" stroke-width="1.2" />
<text x="311.80" y="382.30" font-size="8.3" text-anchor="middle" font-weight="normal" fill="#2a2a2a" stroke="#2a2a2a" stroke-width="0.12">32</text>
<line x1="323.00" y1="369.20" x2="323.00" y2="372.20" stroke="#111" stroke-width="1.2" />
<text x="323.00" y="382.30" font-size="8.3" text-anchor="middle" font-weight="normal" fill="#2a2a2a" stroke="#2a2a2a" stroke-width="0.12">35</text>
<line x1="334.20" y1="369.20" x2="334.20" y2="372.20" stroke="#111" stroke-width="1.2" />
<text x="334.20" y="382.30" font-size="8.3" text-anchor="middle" font-weight="normal" fill="#2a2a2a" stroke="#2a2a2a" stroke-width="0.12">38</text>
<text x="273.80" y="394.50" font-size="8.8" text-anchor="middle" font-weight="normal" fill="#2a2a2a" stroke="#2a2a2a" stroke-width="0.15" textLength="65" lengthAdjust="spacingAndGlyphs">Days posttreatment</text>
<text transform="translate(176.50,323.00) rotate(-90) scale(0.92,1)" x="0" y="0" font-size="8.9" text-anchor="middle" fill="#333333" >Tumor volume (mm<tspan font-size="5.5" dy="-3.2">3</tspan><tspan dy="3.2">)</tspan></text>
<polyline points="211.00,367.80 222.20,367.80 233.40,367.80 244.60,367.80 255.80,367.80 267.00,367.70 278.20,367.60 289.40,367.50 300.60,367.30 311.80,367.00 323.00,366.30 334.20,362.60" fill="none" stroke="#72a94c" stroke-width="1.7" stroke-linejoin="round" stroke-linecap="round"/>
<polyline points="211.00,368.40 222.20,368.40 233.40,368.00 244.60,367.50 255.80,366.40 267.00,363.60 278.20,360.30 289.40,360.00 300.60,358.30 311.80,355.00 323.00,351.00 334.20,339.80" fill="none" stroke="#2f4f8e" stroke-width="2.0" stroke-linejoin="round" stroke-linecap="round"/>
<polyline points="211.00,368.20 222.20,368.20 233.40,367.80 244.60,367.20 255.80,366.00 267.00,363.10 278.20,359.50 289.40,359.30 300.60,357.30 311.80,353.70 323.00,349.40 334.20,337.50" fill="none" stroke="#3f2667" stroke-width="2.0" stroke-linejoin="round" stroke-linecap="round"/>
<polyline points="211.00,367.60 222.20,367.60 233.40,365.70 244.60,363.10 255.80,357.40 267.00,352.00 278.20,342.00 289.40,340.90 300.60,335.60 311.80,332.60 323.00,319.20 334.20,302.40" fill="none" stroke="#a8153a" stroke-width="1.7" stroke-linejoin="round" stroke-linecap="round"/>
<line x1="267.00" y1="361.00" x2="267.00" y2="366.50" stroke="#2f4f8e" stroke-width="1.0" />
<line x1="265.10" y1="361.00" x2="268.90" y2="361.00" stroke="#2f4f8e" stroke-width="1.0" />
<line x1="265.10" y1="366.50" x2="268.90" y2="366.50" stroke="#2f4f8e" stroke-width="1.0" />
<line x1="278.20" y1="356.00" x2="278.20" y2="364.50" stroke="#2f4f8e" stroke-width="1.0" />
<line x1="276.30" y1="356.00" x2="280.10" y2="356.00" stroke="#2f4f8e" stroke-width="1.0" />
<line x1="276.30" y1="364.50" x2="280.10" y2="364.50" stroke="#2f4f8e" stroke-width="1.0" />
<line x1="289.40" y1="355.50" x2="289.40" y2="364.50" stroke="#2f4f8e" stroke-width="1.0" />
<line x1="287.50" y1="355.50" x2="291.30" y2="355.50" stroke="#2f4f8e" stroke-width="1.0" />
<line x1="287.50" y1="364.50" x2="291.30" y2="364.50" stroke="#2f4f8e" stroke-width="1.0" />
<line x1="300.60" y1="353.40" x2="300.60" y2="361.40" stroke="#2f4f8e" stroke-width="1.0" />
<line x1="298.70" y1="353.40" x2="302.50" y2="353.40" stroke="#2f4f8e" stroke-width="1.0" />
<line x1="298.70" y1="361.40" x2="302.50" y2="361.40" stroke="#2f4f8e" stroke-width="1.0" />
<line x1="311.80" y1="346.60" x2="311.80" y2="361.40" stroke="#2f4f8e" stroke-width="1.0" />
<line x1="309.90" y1="346.60" x2="313.70" y2="346.60" stroke="#2f4f8e" stroke-width="1.0" />
<line x1="309.90" y1="361.40" x2="313.70" y2="361.40" stroke="#2f4f8e" stroke-width="1.0" />
<line x1="323.00" y1="340.00" x2="323.00" y2="357.00" stroke="#2f4f8e" stroke-width="1.0" />
<line x1="321.10" y1="340.00" x2="324.90" y2="340.00" stroke="#2f4f8e" stroke-width="1.0" />
<line x1="321.10" y1="357.00" x2="324.90" y2="357.00" stroke="#2f4f8e" stroke-width="1.0" />
<line x1="334.20" y1="329.00" x2="334.20" y2="350.70" stroke="#2f4f8e" stroke-width="1.0" />
<line x1="332.30" y1="329.00" x2="336.10" y2="329.00" stroke="#2f4f8e" stroke-width="1.0" />
<line x1="332.30" y1="350.70" x2="336.10" y2="350.70" stroke="#2f4f8e" stroke-width="1.0" />
<line x1="267.00" y1="360.00" x2="267.00" y2="366.00" stroke="#3f2667" stroke-width="1.0" />
<line x1="265.10" y1="360.00" x2="268.90" y2="360.00" stroke="#3f2667" stroke-width="1.0" />
<line x1="265.10" y1="366.00" x2="268.90" y2="366.00" stroke="#3f2667" stroke-width="1.0" />
<line x1="278.20" y1="355.00" x2="278.20" y2="364.00" stroke="#3f2667" stroke-width="1.0" />
<line x1="276.30" y1="355.00" x2="280.10" y2="355.00" stroke="#3f2667" stroke-width="1.0" />
<line x1="276.30" y1="364.00" x2="280.10" y2="364.00" stroke="#3f2667" stroke-width="1.0" />
<line x1="289.40" y1="354.50" x2="289.40" y2="364.20" stroke="#3f2667" stroke-width="1.0" />
<line x1="287.50" y1="354.50" x2="291.30" y2="354.50" stroke="#3f2667" stroke-width="1.0" />
<line x1="287.50" y1="364.20" x2="291.30" y2="364.20" stroke="#3f2667" stroke-width="1.0" />
<line x1="300.60" y1="346.60" x2="300.60" y2="365.00" stroke="#3f2667" stroke-width="1.0" />
<line x1="298.70" y1="346.60" x2="302.50" y2="346.60" stroke="#3f2667" stroke-width="1.0" />
<line x1="298.70" y1="365.00" x2="302.50" y2="365.00" stroke="#3f2667" stroke-width="1.0" />
<line x1="311.80" y1="338.80" x2="311.80" y2="365.20" stroke="#3f2667" stroke-width="1.0" />
<line x1="309.90" y1="338.80" x2="313.70" y2="338.80" stroke="#3f2667" stroke-width="1.0" />
<line x1="309.90" y1="365.20" x2="313.70" y2="365.20" stroke="#3f2667" stroke-width="1.0" />
<line x1="323.00" y1="337.70" x2="323.00" y2="361.40" stroke="#3f2667" stroke-width="1.0" />
<line x1="321.10" y1="337.70" x2="324.90" y2="337.70" stroke="#3f2667" stroke-width="1.0" />
<line x1="321.10" y1="361.40" x2="324.90" y2="361.40" stroke="#3f2667" stroke-width="1.0" />
<line x1="334.20" y1="315.10" x2="334.20" y2="360.00" stroke="#3f2667" stroke-width="1.0" />
<line x1="332.30" y1="315.10" x2="336.10" y2="315.10" stroke="#3f2667" stroke-width="1.0" />
<line x1="332.30" y1="360.00" x2="336.10" y2="360.00" stroke="#3f2667" stroke-width="1.0" />
<line x1="255.80" y1="351.20" x2="255.80" y2="363.10" stroke="#a8153a" stroke-width="1.0" />
<line x1="253.90" y1="351.20" x2="257.70" y2="351.20" stroke="#a8153a" stroke-width="1.0" />
<line x1="253.90" y1="363.10" x2="257.70" y2="363.10" stroke="#a8153a" stroke-width="1.0" />
<line x1="267.00" y1="347.70" x2="267.00" y2="356.20" stroke="#a8153a" stroke-width="1.0" />
<line x1="265.10" y1="347.70" x2="268.90" y2="347.70" stroke="#a8153a" stroke-width="1.0" />
<line x1="265.10" y1="356.20" x2="268.90" y2="356.20" stroke="#a8153a" stroke-width="1.0" />
<line x1="278.20" y1="335.70" x2="278.20" y2="347.80" stroke="#a8153a" stroke-width="1.0" />
<line x1="276.30" y1="335.70" x2="280.10" y2="335.70" stroke="#a8153a" stroke-width="1.0" />
<line x1="276.30" y1="347.80" x2="280.10" y2="347.80" stroke="#a8153a" stroke-width="1.0" />
<line x1="289.40" y1="335.60" x2="289.40" y2="347.40" stroke="#a8153a" stroke-width="1.0" />
<line x1="287.50" y1="335.60" x2="291.30" y2="335.60" stroke="#a8153a" stroke-width="1.0" />
<line x1="287.50" y1="347.40" x2="291.30" y2="347.40" stroke="#a8153a" stroke-width="1.0" />
<line x1="300.60" y1="323.10" x2="300.60" y2="346.60" stroke="#a8153a" stroke-width="1.0" />
<line x1="298.70" y1="323.10" x2="302.50" y2="323.10" stroke="#a8153a" stroke-width="1.0" />
<line x1="298.70" y1="346.60" x2="302.50" y2="346.60" stroke="#a8153a" stroke-width="1.0" />
<line x1="311.80" y1="322.80" x2="311.80" y2="341.80" stroke="#a8153a" stroke-width="1.0" />
<line x1="309.90" y1="322.80" x2="313.70" y2="322.80" stroke="#a8153a" stroke-width="1.0" />
<line x1="309.90" y1="341.80" x2="313.70" y2="341.80" stroke="#a8153a" stroke-width="1.0" />
<line x1="323.00" y1="306.20" x2="323.00" y2="332.00" stroke="#a8153a" stroke-width="1.0" />
<line x1="321.10" y1="306.20" x2="324.90" y2="306.20" stroke="#a8153a" stroke-width="1.0" />
<line x1="321.10" y1="332.00" x2="324.90" y2="332.00" stroke="#a8153a" stroke-width="1.0" />
<line x1="334.20" y1="283.50" x2="334.20" y2="322.80" stroke="#a8153a" stroke-width="1.0" />
<line x1="332.30" y1="283.50" x2="336.10" y2="283.50" stroke="#a8153a" stroke-width="1.0" />
<line x1="332.30" y1="322.80" x2="336.10" y2="322.80" stroke="#a8153a" stroke-width="1.0" />
<polygon points="211.00,365.64 213.07,369.24 208.93,369.24" fill="#72a94c"/>
<polygon points="222.20,365.64 224.27,369.24 220.13,369.24" fill="#72a94c"/>
<polygon points="233.40,365.64 235.47,369.24 231.33,369.24" fill="#72a94c"/>
<polygon points="244.60,365.64 246.67,369.24 242.53,369.24" fill="#72a94c"/>
<polygon points="255.80,365.64 257.87,369.24 253.73,369.24" fill="#72a94c"/>
<polygon points="267.00,365.54 269.07,369.14 264.93,369.14" fill="#72a94c"/>
<polygon points="278.20,365.44 280.27,369.04 276.13,369.04" fill="#72a94c"/>
<polygon points="289.40,365.34 291.47,368.94 287.33,368.94" fill="#72a94c"/>
<polygon points="300.60,365.14 302.67,368.74 298.53,368.74" fill="#72a94c"/>
<polygon points="311.80,364.84 313.87,368.44 309.73,368.44" fill="#72a94c"/>
<polygon points="323.00,364.14 325.07,367.74 320.93,367.74" fill="#72a94c"/>
<polygon points="334.20,360.44 336.27,364.04 332.13,364.04" fill="#72a94c"/>
<polygon points="211.00,370.56 213.07,366.96 208.93,366.96" fill="#2f4f8e"/>
<polygon points="222.20,370.56 224.27,366.96 220.13,366.96" fill="#2f4f8e"/>
<polygon points="233.40,370.16 235.47,366.56 231.33,366.56" fill="#2f4f8e"/>
<polygon points="244.60,369.66 246.67,366.06 242.53,366.06" fill="#2f4f8e"/>
<polygon points="255.80,368.56 257.87,364.96 253.73,364.96" fill="#2f4f8e"/>
<polygon points="267.00,365.76 269.07,362.16 264.93,362.16" fill="#2f4f8e"/>
<polygon points="278.20,362.46 280.27,358.86 276.13,358.86" fill="#2f4f8e"/>
<polygon points="289.40,362.16 291.47,358.56 287.33,358.56" fill="#2f4f8e"/>
<polygon points="300.60,360.46 302.67,356.86 298.53,356.86" fill="#2f4f8e"/>
<polygon points="311.80,357.16 313.87,353.56 309.73,353.56" fill="#2f4f8e"/>
<polygon points="323.00,353.16 325.07,349.56 320.93,349.56" fill="#2f4f8e"/>
<polygon points="334.20,341.96 336.27,338.36 332.13,338.36" fill="#2f4f8e"/>
<circle cx="211.00" cy="368.20" r="1.80" fill="#3f2667"/>
<circle cx="222.20" cy="368.20" r="1.80" fill="#3f2667"/>
<circle cx="233.40" cy="367.80" r="1.80" fill="#3f2667"/>
<circle cx="244.60" cy="367.20" r="1.80" fill="#3f2667"/>
<circle cx="255.80" cy="366.00" r="1.80" fill="#3f2667"/>
<circle cx="267.00" cy="363.10" r="1.80" fill="#3f2667"/>
<circle cx="278.20" cy="359.50" r="1.80" fill="#3f2667"/>
<circle cx="289.40" cy="359.30" r="1.80" fill="#3f2667"/>
<circle cx="300.60" cy="357.30" r="1.80" fill="#3f2667"/>
<circle cx="311.80" cy="353.70" r="1.80" fill="#3f2667"/>
<circle cx="323.00" cy="349.40" r="1.80" fill="#3f2667"/>
<circle cx="334.20" cy="337.50" r="1.80" fill="#3f2667"/>
<rect x="209.20" y="365.80" width="3.60" height="3.60" fill="#a8153a"/>
<rect x="220.40" y="365.80" width="3.60" height="3.60" fill="#a8153a"/>
<rect x="231.60" y="363.90" width="3.60" height="3.60" fill="#a8153a"/>
<rect x="242.80" y="361.30" width="3.60" height="3.60" fill="#a8153a"/>
<rect x="254.00" y="355.60" width="3.60" height="3.60" fill="#a8153a"/>
<rect x="265.20" y="350.20" width="3.60" height="3.60" fill="#a8153a"/>
<rect x="276.40" y="340.20" width="3.60" height="3.60" fill="#a8153a"/>
<rect x="287.60" y="339.10" width="3.60" height="3.60" fill="#a8153a"/>
<rect x="298.80" y="333.80" width="3.60" height="3.60" fill="#a8153a"/>
<rect x="310.00" y="330.80" width="3.60" height="3.60" fill="#a8153a"/>
<rect x="321.20" y="317.40" width="3.60" height="3.60" fill="#a8153a"/>
<rect x="332.40" y="300.60" width="3.60" height="3.60" fill="#a8153a"/>
<line x1="235.30" y1="283.10" x2="245.80" y2="283.10" stroke="#3f2667" stroke-width="1.6" />
<circle cx="240.55" cy="283.10" r="1.90" fill="#3f2667"/>
<text x="249.80" y="285.90" font-size="7.6" text-anchor="start" font-weight="normal" fill="#2a2a2a" stroke="#2a2a2a" stroke-width="0.1">NC NC</text>
<line x1="235.30" y1="293.60" x2="245.80" y2="293.60" stroke="#a8153a" stroke-width="1.6" />
<rect x="238.65" y="291.70" width="3.80" height="3.80" fill="#a8153a"/>
<text x="249.80" y="296.40" font-size="7.6" text-anchor="start" font-weight="normal" fill="#2a2a2a" stroke="#2a2a2a" stroke-width="0.1">NC shC</text>
<line x1="235.30" y1="305.20" x2="245.80" y2="305.20" stroke="#72a94c" stroke-width="1.6" />
<polygon points="240.55,302.92 242.74,306.72 238.37,306.72" fill="#72a94c"/>
<text x="249.80" y="308.00" font-size="7.6" text-anchor="start" font-weight="normal" fill="#2a2a2a" stroke="#2a2a2a" stroke-width="0.1">shP NC</text>
<line x1="235.30" y1="315.80" x2="245.80" y2="315.80" stroke="#2f4f8e" stroke-width="1.6" />
<polygon points="240.55,318.08 242.74,314.28 238.37,314.28" fill="#2f4f8e"/>
<text x="249.80" y="318.60" font-size="7.6" text-anchor="start" font-weight="normal" fill="#2a2a2a" stroke="#2a2a2a" stroke-width="0.1">shP shC</text>
<polyline points="279.40,280.60 281.00,280.60 281.00,293.20 279.40,293.20" fill="none" stroke="#222" stroke-width="1.3"/>
<circle cx="283.90" cy="284.40" r="1.15" fill="#1a1a1a"/>
<circle cx="283.90" cy="288.00" r="1.15" fill="#1a1a1a"/>
<polyline points="286.20,280.60 287.80,280.60 287.80,303.20 286.20,303.20" fill="none" stroke="#222" stroke-width="1.3"/>
<circle cx="291.60" cy="286.50" r="1.15" fill="#1a1a1a"/>
<circle cx="291.60" cy="290.90" r="1.15" fill="#1a1a1a"/>
<circle cx="291.60" cy="295.20" r="1.15" fill="#1a1a1a"/>
<polyline points="233.20,303.40 231.60,303.40 231.60,317.40 233.20,317.40" fill="none" stroke="#222" stroke-width="1.3"/>
<circle cx="227.90" cy="306.40" r="1.15" fill="#1a1a1a"/>
<circle cx="227.90" cy="310.00" r="1.15" fill="#1a1a1a"/>
<circle cx="227.90" cy="313.80" r="1.15" fill="#1a1a1a"/>
<text transform="translate(345.20,268.80) scale(1.1,1)" x="0" y="0" font-size="10.5" font-weight="bold" fill="#111" stroke="#111" stroke-width="0.35">I</text>
<line x1="376.00" y1="286.60" x2="376.00" y2="376.30" stroke="#111" stroke-width="1.4" />
<line x1="375.40" y1="375.70" x2="512.80" y2="375.70" stroke="#111" stroke-width="1.4" />
<line x1="372.80" y1="375.70" x2="376.00" y2="375.70" stroke="#111" stroke-width="1.2" />
<text x="371.60" y="379.10" font-size="8.4" text-anchor="end" font-weight="normal" fill="#333333" >0</text>
<line x1="372.80" y1="349.85" x2="376.00" y2="349.85" stroke="#111" stroke-width="1.2" />
<text x="371.60" y="353.25" font-size="8.4" text-anchor="end" font-weight="normal" fill="#333333" >1</text>
<line x1="372.80" y1="324.00" x2="376.00" y2="324.00" stroke="#111" stroke-width="1.2" />
<text x="371.60" y="327.40" font-size="8.4" text-anchor="end" font-weight="normal" fill="#333333" >2</text>
<line x1="372.80" y1="298.15" x2="376.00" y2="298.15" stroke="#111" stroke-width="1.2" />
<text x="371.60" y="301.55" font-size="8.4" text-anchor="end" font-weight="normal" fill="#333333" >3</text>
<line x1="394.00" y1="375.70" x2="394.00" y2="378.70" stroke="#111" stroke-width="1.2" />
<text x="394.00" y="389.60" font-size="8.3" text-anchor="middle" font-weight="normal" fill="#2a2a2a" stroke="#2a2a2a" stroke-width="0.18">NC NC</text>
<line x1="427.00" y1="375.70" x2="427.00" y2="378.70" stroke="#111" stroke-width="1.2" />
<text x="427.00" y="389.60" font-size="8.3" text-anchor="middle" font-weight="normal" fill="#2a2a2a" stroke="#2a2a2a" stroke-width="0.18">NC shC</text>
<line x1="460.50" y1="375.70" x2="460.50" y2="378.70" stroke="#111" stroke-width="1.2" />
<text x="460.50" y="389.60" font-size="8.3" text-anchor="middle" font-weight="normal" fill="#2a2a2a" stroke="#2a2a2a" stroke-width="0.18">shP NC</text>
<line x1="494.70" y1="375.70" x2="494.70" y2="378.70" stroke="#111" stroke-width="1.2" />
<text x="494.70" y="389.60" font-size="8.3" text-anchor="middle" font-weight="normal" fill="#2a2a2a" stroke="#2a2a2a" stroke-width="0.18">shP shC</text>
<text transform="translate(360.10,331.00) rotate(-90) scale(0.92,1)" x="0" y="0" font-size="8.8" text-anchor="middle" fill="#333333" >Tumor weight (g)</text>
<circle cx="384.60" cy="353.10" r="1.90" fill="#3f2667"/>
<circle cx="389.50" cy="355.30" r="1.90" fill="#3f2667"/>
<circle cx="394.00" cy="357.30" r="1.90" fill="#3f2667"/>
<circle cx="398.10" cy="357.00" r="1.90" fill="#3f2667"/>
<circle cx="402.30" cy="355.30" r="1.90" fill="#3f2667"/>
<circle cx="394.00" cy="346.70" r="1.90" fill="#3f2667"/>
<circle cx="394.00" cy="330.10" r="1.90" fill="#3f2667"/>
<line x1="384.60" y1="350.90" x2="404.30" y2="350.90" stroke="#3f2667" stroke-width="1.3" />
<line x1="394.00" y1="340.50" x2="394.00" y2="361.00" stroke="#3f2667" stroke-width="1.2" />
<line x1="388.30" y1="340.50" x2="399.40" y2="340.50" stroke="#3f2667" stroke-width="1.2" />
<line x1="388.30" y1="361.00" x2="399.40" y2="361.00" stroke="#3f2667" stroke-width="1.2" />
<rect x="425.10" y="297.90" width="3.80" height="3.80" fill="#a8153a"/>
<rect x="425.10" y="307.00" width="3.80" height="3.80" fill="#a8153a"/>
<rect x="425.10" y="318.80" width="3.80" height="3.80" fill="#a8153a"/>
<rect x="425.10" y="331.90" width="3.80" height="3.80" fill="#a8153a"/>
<rect x="425.90" y="342.80" width="3.80" height="3.80" fill="#a8153a"/>
<rect x="428.30" y="344.80" width="3.80" height="3.80" fill="#a8153a"/>
<rect x="422.10" y="348.50" width="3.80" height="3.80" fill="#a8153a"/>
<line x1="416.20" y1="328.90" x2="437.70" y2="328.90" stroke="#a8153a" stroke-width="1.3" />
<line x1="427.00" y1="309.10" x2="427.00" y2="348.60" stroke="#a8153a" stroke-width="1.2" />
<line x1="420.40" y1="309.10" x2="433.50" y2="309.10" stroke="#a8153a" stroke-width="1.2" />
<polygon points="449.6,372.8 452.6,368.4 455.6,370.4 458,369.4 461,369.8 464,369.4 466.4,370.4 468.8,368.4 471.8,372.8" fill="#80b858"/>
<polygon points="452.60,368.08 455.02,372.28 450.19,372.28" fill="#80b858"/>
<polygon points="468.80,368.08 471.22,372.28 466.38,372.28" fill="#80b858"/>
<line x1="449.60" y1="372.40" x2="471.80" y2="372.40" stroke="#6aa048" stroke-width="1.1" />
<polygon points="496.70,339.08 498.88,335.28 494.51,335.28" fill="#2f4f8e"/>
<polygon points="489.30,345.28 491.49,341.48 487.12,341.48" fill="#2f4f8e"/>
<polygon points="491.70,347.68 493.88,343.88 489.51,343.88" fill="#2f4f8e"/>
<polygon points="496.70,351.88 498.88,348.08 494.51,348.08" fill="#2f4f8e"/>
<polygon points="489.30,364.98 491.49,361.18 487.12,361.18" fill="#2f4f8e"/>
<polygon points="493.70,369.18 495.88,365.38 491.51,365.38" fill="#2f4f8e"/>
<polygon points="500.40,369.18 502.58,365.38 498.21,365.38" fill="#2f4f8e"/>
<line x1="483.80" y1="353.10" x2="505.30" y2="353.10" stroke="#2f4f8e" stroke-width="1.3" />
<line x1="494.70" y1="340.00" x2="494.70" y2="366.40" stroke="#2f4f8e" stroke-width="1.2" />
<line x1="487.30" y1="340.00" x2="501.60" y2="340.00" stroke="#2f4f8e" stroke-width="1.2" />
<line x1="487.30" y1="366.40" x2="501.60" y2="366.40" stroke="#2f4f8e" stroke-width="1.2" />
<line x1="393.20" y1="295.50" x2="427.30" y2="295.50" stroke="#1a1a1a" stroke-width="1.2" />
<circle cx="406.60" cy="291.60" r="1.1" fill="#1a1a1a"/>
<circle cx="410.30" cy="291.60" r="1.1" fill="#1a1a1a"/>
<circle cx="414.00" cy="291.60" r="1.1" fill="#1a1a1a"/>
<line x1="393.20" y1="288.50" x2="459.80" y2="288.50" stroke="#1a1a1a" stroke-width="1.2" />
<circle cx="422.80" cy="284.30" r="1.1" fill="#1a1a1a"/>
<circle cx="426.50" cy="284.30" r="1.1" fill="#1a1a1a"/>
<circle cx="430.20" cy="284.30" r="1.1" fill="#1a1a1a"/>
<line x1="460.10" y1="331.50" x2="494.70" y2="331.50" stroke="#1a1a1a" stroke-width="1.2" />
<circle cx="473.70" cy="327.40" r="1.1" fill="#1a1a1a"/>
<circle cx="477.40" cy="327.40" r="1.1" fill="#1a1a1a"/>
<circle cx="481.10" cy="327.40" r="1.1" fill="#1a1a1a"/>
<rect x="0.5" y="0.5" width="518.6" height="403.4" fill="none" stroke="#000" stroke-width="1.2"/>
<line x1="519.5" y1="0" x2="519.5" y2="405" stroke="#000" stroke-width="1"/>
<line x1="0" y1="404.5" x2="520" y2="404.5" stroke="#000" stroke-width="1"/>
</svg>
</body></html>
